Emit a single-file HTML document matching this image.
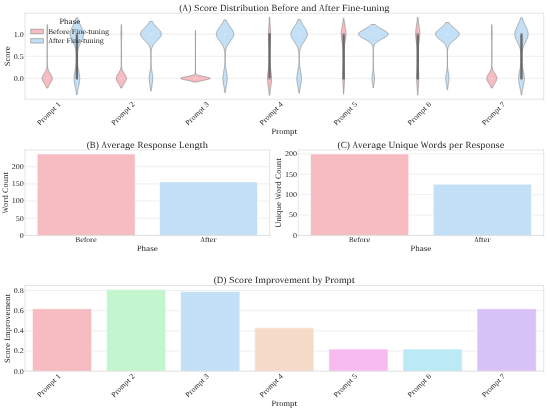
<!DOCTYPE html>
<html><head><meta charset="utf-8"><title>Fine-tuning Score Analysis</title>
<style>
html,body{margin:0;padding:0;background:#fff;width:550px;height:410px;overflow:hidden;font-family:"Liberation Serif",serif;}
svg{display:block;}
.wrap{will-change:transform;width:550px;height:410px;}
</style></head><body><div class="wrap">
<svg width="550" height="410" viewBox="0 0 955.358694 712.176481" version="1.1">
<defs>
<style type="text/css">*{stroke-linejoin: round; stroke-linecap: butt}</style>
</defs>
<g id="figure_1">
<g id="patch_1">
<path d="M 0 712.176481
L 955.358694 712.176481
L 955.358694 0
L 0 0
z
" style="fill: #ffffff"/>
</g>
<g id="axes_1">
<g id="patch_2">
<path d="M 43.425395 172.311968
L 944.415494 172.311968
L 944.415494 23.10231
L 43.425395 23.10231
z
" style="fill: #ffffff"/>
</g>
<g id="matplotlib.axis_1">
<g id="xtick_1">
<g id="text_1">
<text y="0.00" transform="translate(69.628669 218.25771) rotate(-45)" style="font-size:12.870px;font-family:'Liberation Serif',serif;fill:#262626;text-rendering:geometricPrecision"><tspan x="0.00" textLength="7.40" lengthAdjust="spacingAndGlyphs">P</tspan><tspan x="7.40" textLength="5.26" lengthAdjust="spacingAndGlyphs">r</tspan><tspan x="12.66" textLength="6.62" lengthAdjust="spacingAndGlyphs">o</tspan><tspan x="19.28" textLength="10.43" lengthAdjust="spacingAndGlyphs">m</tspan><tspan x="29.71" textLength="7.04" lengthAdjust="spacingAndGlyphs">p</tspan><tspan x="36.75" textLength="4.42" lengthAdjust="spacingAndGlyphs">t</tspan> <tspan x="44.67" textLength="7.00" lengthAdjust="spacingAndGlyphs">1</tspan></text>
</g>
</g>
<g id="xtick_2">
<g id="text_2">
<text y="0.00" transform="translate(198.34154 218.25771) rotate(-45)" style="font-size:12.870px;font-family:'Liberation Serif',serif;fill:#262626;text-rendering:geometricPrecision"><tspan x="0.00" textLength="7.40" lengthAdjust="spacingAndGlyphs">P</tspan><tspan x="7.40" textLength="5.26" lengthAdjust="spacingAndGlyphs">r</tspan><tspan x="12.66" textLength="6.62" lengthAdjust="spacingAndGlyphs">o</tspan><tspan x="19.28" textLength="10.43" lengthAdjust="spacingAndGlyphs">m</tspan><tspan x="29.71" textLength="7.04" lengthAdjust="spacingAndGlyphs">p</tspan><tspan x="36.75" textLength="4.42" lengthAdjust="spacingAndGlyphs">t</tspan> <tspan x="44.67" textLength="7.00" lengthAdjust="spacingAndGlyphs">2</tspan></text>
</g>
</g>
<g id="xtick_3">
<g id="text_3">
<text y="0.00" transform="translate(327.054412 218.25771) rotate(-45)" style="font-size:12.870px;font-family:'Liberation Serif',serif;fill:#262626;text-rendering:geometricPrecision"><tspan x="0.00" textLength="7.40" lengthAdjust="spacingAndGlyphs">P</tspan><tspan x="7.40" textLength="5.26" lengthAdjust="spacingAndGlyphs">r</tspan><tspan x="12.66" textLength="6.62" lengthAdjust="spacingAndGlyphs">o</tspan><tspan x="19.28" textLength="10.43" lengthAdjust="spacingAndGlyphs">m</tspan><tspan x="29.71" textLength="7.04" lengthAdjust="spacingAndGlyphs">p</tspan><tspan x="36.75" textLength="4.42" lengthAdjust="spacingAndGlyphs">t</tspan> <tspan x="44.67" textLength="7.00" lengthAdjust="spacingAndGlyphs">3</tspan></text>
</g>
</g>
<g id="xtick_4">
<g id="text_4">
<text y="0.00" transform="translate(455.767283 218.25771) rotate(-45)" style="font-size:12.870px;font-family:'Liberation Serif',serif;fill:#262626;text-rendering:geometricPrecision"><tspan x="0.00" textLength="7.40" lengthAdjust="spacingAndGlyphs">P</tspan><tspan x="7.40" textLength="5.26" lengthAdjust="spacingAndGlyphs">r</tspan><tspan x="12.66" textLength="6.62" lengthAdjust="spacingAndGlyphs">o</tspan><tspan x="19.28" textLength="10.43" lengthAdjust="spacingAndGlyphs">m</tspan><tspan x="29.71" textLength="7.04" lengthAdjust="spacingAndGlyphs">p</tspan><tspan x="36.75" textLength="4.42" lengthAdjust="spacingAndGlyphs">t</tspan> <tspan x="44.67" textLength="7.00" lengthAdjust="spacingAndGlyphs">4</tspan></text>
</g>
</g>
<g id="xtick_5">
<g id="text_5">
<text y="0.00" transform="translate(584.480154 218.25771) rotate(-45)" style="font-size:12.870px;font-family:'Liberation Serif',serif;fill:#262626;text-rendering:geometricPrecision"><tspan x="0.00" textLength="7.40" lengthAdjust="spacingAndGlyphs">P</tspan><tspan x="7.40" textLength="5.26" lengthAdjust="spacingAndGlyphs">r</tspan><tspan x="12.66" textLength="6.62" lengthAdjust="spacingAndGlyphs">o</tspan><tspan x="19.28" textLength="10.43" lengthAdjust="spacingAndGlyphs">m</tspan><tspan x="29.71" textLength="7.04" lengthAdjust="spacingAndGlyphs">p</tspan><tspan x="36.75" textLength="4.42" lengthAdjust="spacingAndGlyphs">t</tspan> <tspan x="44.67" textLength="7.00" lengthAdjust="spacingAndGlyphs">5</tspan></text>
</g>
</g>
<g id="xtick_6">
<g id="text_6">
<text y="0.00" transform="translate(713.193026 218.25771) rotate(-45)" style="font-size:12.870px;font-family:'Liberation Serif',serif;fill:#262626;text-rendering:geometricPrecision"><tspan x="0.00" textLength="7.40" lengthAdjust="spacingAndGlyphs">P</tspan><tspan x="7.40" textLength="5.26" lengthAdjust="spacingAndGlyphs">r</tspan><tspan x="12.66" textLength="6.62" lengthAdjust="spacingAndGlyphs">o</tspan><tspan x="19.28" textLength="10.43" lengthAdjust="spacingAndGlyphs">m</tspan><tspan x="29.71" textLength="7.04" lengthAdjust="spacingAndGlyphs">p</tspan><tspan x="36.75" textLength="4.42" lengthAdjust="spacingAndGlyphs">t</tspan> <tspan x="44.67" textLength="7.00" lengthAdjust="spacingAndGlyphs">6</tspan></text>
</g>
</g>
<g id="xtick_7">
<g id="text_7">
<text y="0.00" transform="translate(841.905897 218.25771) rotate(-45)" style="font-size:12.870px;font-family:'Liberation Serif',serif;fill:#262626;text-rendering:geometricPrecision"><tspan x="0.00" textLength="7.40" lengthAdjust="spacingAndGlyphs">P</tspan><tspan x="7.40" textLength="5.26" lengthAdjust="spacingAndGlyphs">r</tspan><tspan x="12.66" textLength="6.62" lengthAdjust="spacingAndGlyphs">o</tspan><tspan x="19.28" textLength="10.43" lengthAdjust="spacingAndGlyphs">m</tspan><tspan x="29.71" textLength="7.04" lengthAdjust="spacingAndGlyphs">p</tspan><tspan x="36.75" textLength="4.42" lengthAdjust="spacingAndGlyphs">t</tspan> <tspan x="44.67" textLength="7.00" lengthAdjust="spacingAndGlyphs">7</tspan></text>
</g>
</g>
<g id="text_8">
<text y="232.99" style="font-size:14.040px;font-family:'Liberation Serif',serif;fill:#262626;text-rendering:geometricPrecision"><tspan x="471.46" textLength="8.07" lengthAdjust="spacingAndGlyphs">P</tspan><tspan x="479.54" textLength="5.74" lengthAdjust="spacingAndGlyphs">r</tspan><tspan x="485.27" textLength="7.22" lengthAdjust="spacingAndGlyphs">o</tspan><tspan x="492.50" textLength="11.38" lengthAdjust="spacingAndGlyphs">m</tspan><tspan x="503.88" textLength="7.68" lengthAdjust="spacingAndGlyphs">p</tspan><tspan x="511.56" textLength="4.82" lengthAdjust="spacingAndGlyphs">t</tspan></text>
</g>
</g>
<g id="matplotlib.axis_2">
<g id="ytick_1">
<g id="line2d_1">
<path d="M 43.425395 136.169122
L 944.415494 136.169122
" clip-path="url(#p2579b89960)" style="fill: none; stroke: #cccccc; stroke-width: 0.6; stroke-linecap: round"/>
</g>
<g id="text_9">
<text y="140.35" style="font-size:12.870px;font-family:'Liberation Serif',serif;fill:#262626;text-rendering:geometricPrecision"><tspan x="23.93" textLength="7.00" lengthAdjust="spacingAndGlyphs">0</tspan><tspan x="30.93" textLength="3.50" lengthAdjust="spacingAndGlyphs">.</tspan><tspan x="34.43" textLength="7.00" lengthAdjust="spacingAndGlyphs">0</tspan></text>
</g>
</g>
<g id="ytick_2">
<g id="line2d_2">
<path d="M 43.425395 97.707139
L 944.415494 97.707139
" clip-path="url(#p2579b89960)" style="fill: none; stroke: #cccccc; stroke-width: 0.6; stroke-linecap: round"/>
</g>
<g id="text_10">
<text y="101.89" style="font-size:12.870px;font-family:'Liberation Serif',serif;fill:#262626;text-rendering:geometricPrecision"><tspan x="23.93" textLength="7.00" lengthAdjust="spacingAndGlyphs">0</tspan><tspan x="30.93" textLength="3.50" lengthAdjust="spacingAndGlyphs">.</tspan><tspan x="34.43" textLength="7.00" lengthAdjust="spacingAndGlyphs">5</tspan></text>
</g>
</g>
<g id="ytick_3">
<g id="line2d_3">
<path d="M 43.425395 59.245156
L 944.415494 59.245156
" clip-path="url(#p2579b89960)" style="fill: none; stroke: #cccccc; stroke-width: 0.6; stroke-linecap: round"/>
</g>
<g id="text_11">
<text y="63.42" style="font-size:12.870px;font-family:'Liberation Serif',serif;fill:#262626;text-rendering:geometricPrecision"><tspan x="23.93" textLength="7.00" lengthAdjust="spacingAndGlyphs">1</tspan><tspan x="30.93" textLength="3.50" lengthAdjust="spacingAndGlyphs">.</tspan><tspan x="34.43" textLength="7.00" lengthAdjust="spacingAndGlyphs">0</tspan></text>
</g>
</g>
<g id="text_12">
<text y="97.71" transform="rotate(-90 17.436333 97.707139)" style="font-size:14.040px;font-family:'Liberation Serif',serif;fill:#262626;text-rendering:geometricPrecision"><tspan x="-0.07" textLength="8.22" lengthAdjust="spacingAndGlyphs">S</tspan><tspan x="8.16" textLength="6.72" lengthAdjust="spacingAndGlyphs">c</tspan><tspan x="14.88" textLength="7.22" lengthAdjust="spacingAndGlyphs">o</tspan><tspan x="22.10" textLength="5.74" lengthAdjust="spacingAndGlyphs">r</tspan><tspan x="27.84" textLength="7.10" lengthAdjust="spacingAndGlyphs">e</tspan></text>
</g>
</g>
<g id="FillBetweenPolyCollection_1">
<defs>
<path id="m5cc52a98eb" d="M 83.228711 -559.307494
L 80.849802 -559.307494
L 80.499678 -560.421874
L 80.081672 -561.536255
L 79.594117 -562.650636
L 79.039049 -563.765017
L 78.422964 -564.879397
L 77.757319 -565.993778
L 77.058657 -567.108159
L 76.34827 -568.22254
L 75.651359 -569.33692
L 74.995685 -570.451301
L 74.40982 -571.565682
L 73.921116 -572.680063
L 73.553605 -573.794444
L 73.326043 -574.908824
L 73.250325 -576.023205
L 73.330456 -577.137586
L 73.562198 -578.251967
L 73.933444 -579.366347
L 74.425263 -580.480728
L 75.013502 -581.595109
L 75.670744 -582.70949
L 76.368414 -583.82387
L 77.078799 -584.938251
L 77.776796 -586.052632
L 78.441236 -587.167013
L 79.05572 -588.281394
L 79.608935 -589.395774
L 80.094521 -590.510155
L 80.510557 -591.624536
L 80.858805 -592.738917
L 81.143812 -593.853297
L 81.371999 -594.967678
L 81.550814 -596.082059
L 81.688022 -597.19644
L 81.791145 -598.310821
L 81.867086 -599.425201
L 81.921892 -600.539582
L 81.960664 -601.653963
L 81.987557 -602.768344
L 82.005848 -603.882724
L 82.018049 -604.997105
L 82.026031 -606.111486
L 82.031155 -607.225867
L 82.034381 -608.340247
L 82.036374 -609.454628
L 82.037581 -610.569009
L 82.038298 -611.68339
L 82.038714 -612.797771
L 82.038948 -613.912151
L 82.039072 -615.026532
L 82.039125 -616.140913
L 82.039129 -617.255294
L 82.039088 -618.369674
L 82.038995 -619.484055
L 82.038827 -620.598436
L 82.038549 -621.712817
L 82.038105 -622.827197
L 82.037412 -623.941578
L 82.036351 -625.055959
L 82.034761 -626.17034
L 82.032422 -627.284721
L 82.029051 -628.399101
L 82.024285 -629.513482
L 82.017682 -630.627863
L 82.008714 -631.742244
L 81.996783 -632.856624
L 81.981234 -633.971005
L 81.961392 -635.085386
L 81.936609 -636.199767
L 81.906326 -637.314147
L 81.870149 -638.428528
L 81.827924 -639.542909
L 81.779819 -640.65729
L 81.726385 -641.771671
L 81.668608 -642.886051
L 81.607912 -644.000432
L 81.54614 -645.114813
L 81.485473 -646.229194
L 81.428321 -647.343574
L 81.37717 -648.457955
L 81.334403 -649.572336
L 81.302121 -650.686717
L 81.28197 -651.801097
L 81.275002 -652.915478
L 81.281586 -654.029859
L 81.301374 -655.14424
L 81.333331 -656.258621
L 81.375827 -657.373001
L 81.426772 -658.487382
L 81.483787 -659.601763
L 81.544388 -660.716144
L 81.606161 -661.830524
L 81.666914 -662.944905
L 81.724796 -664.059286
L 81.778369 -665.173667
L 81.826636 -666.288047
L 81.869032 -667.402428
L 81.90538 -668.516809
L 81.935826 -669.63119
L 82.142687 -669.63119
L 82.142687 -669.63119
L 82.173133 -668.516809
L 82.209481 -667.402428
L 82.251877 -666.288047
L 82.300144 -665.173667
L 82.353717 -664.059286
L 82.411599 -662.944905
L 82.472352 -661.830524
L 82.534125 -660.716144
L 82.594726 -659.601763
L 82.651741 -658.487382
L 82.702686 -657.373001
L 82.745182 -656.258621
L 82.777139 -655.14424
L 82.796927 -654.029859
L 82.803511 -652.915478
L 82.796544 -651.801097
L 82.776392 -650.686717
L 82.74411 -649.572336
L 82.701343 -648.457955
L 82.650192 -647.343574
L 82.59304 -646.229194
L 82.532373 -645.114813
L 82.470601 -644.000432
L 82.409905 -642.886051
L 82.352128 -641.771671
L 82.298695 -640.65729
L 82.250589 -639.542909
L 82.208364 -638.428528
L 82.172187 -637.314147
L 82.141904 -636.199767
L 82.117121 -635.085386
L 82.097279 -633.971005
L 82.08173 -632.856624
L 82.069799 -631.742244
L 82.060831 -630.627863
L 82.054228 -629.513482
L 82.049462 -628.399101
L 82.046091 -627.284721
L 82.043752 -626.17034
L 82.042162 -625.055959
L 82.041101 -623.941578
L 82.040408 -622.827197
L 82.039964 -621.712817
L 82.039686 -620.598436
L 82.039519 -619.484055
L 82.039425 -618.369674
L 82.039384 -617.255294
L 82.039388 -616.140913
L 82.039441 -615.026532
L 82.039565 -613.912151
L 82.039799 -612.797771
L 82.040215 -611.68339
L 82.040932 -610.569009
L 82.042139 -609.454628
L 82.044132 -608.340247
L 82.047358 -607.225867
L 82.052482 -606.111486
L 82.060464 -604.997105
L 82.072665 -603.882724
L 82.090956 -602.768344
L 82.117849 -601.653963
L 82.156621 -600.539582
L 82.211427 -599.425201
L 82.287368 -598.310821
L 82.390491 -597.19644
L 82.527699 -596.082059
L 82.706514 -594.967678
L 82.934701 -593.853297
L 83.219708 -592.738917
L 83.567956 -591.624536
L 83.983992 -590.510155
L 84.469578 -589.395774
L 85.022793 -588.281394
L 85.637277 -587.167013
L 86.301717 -586.052632
L 86.999714 -584.938251
L 87.710099 -583.82387
L 88.407769 -582.70949
L 89.065011 -581.595109
L 89.65325 -580.480728
L 90.145069 -579.366347
L 90.516315 -578.251967
L 90.748058 -577.137586
L 90.828188 -576.023205
L 90.75247 -574.908824
L 90.524908 -573.794444
L 90.157397 -572.680063
L 89.668693 -571.565682
L 89.082828 -570.451301
L 88.427154 -569.33692
L 87.730243 -568.22254
L 87.019856 -567.108159
L 86.321194 -565.993778
L 85.655549 -564.879397
L 85.039464 -563.765017
L 84.484396 -562.650636
L 83.996841 -561.536255
L 83.578835 -560.421874
L 83.228711 -559.307494
z
" style="stroke: #828282"/>
</defs>
<g clip-path="url(#p2579b89960)">
<use href="#m5cc52a98eb" x="0" y="712.176481" style="fill: #f6bcc2; stroke: #828282"/>
</g>
</g>
<g id="FillBetweenPolyCollection_2">
<defs>
<path id="m6c2104e255" d="M 134.196958 -547.798617
L 132.851852 -547.798617
L 132.71402 -549.145501
L 132.556805 -550.492384
L 132.379578 -551.839267
L 132.182185 -553.186151
L 131.965043 -554.533034
L 131.729217 -555.879917
L 131.476487 -557.226801
L 131.209384 -558.573684
L 130.931201 -559.920567
L 130.645959 -561.267451
L 130.358344 -562.614334
L 130.073604 -563.961217
L 129.797397 -565.308101
L 129.535624 -566.654984
L 129.294216 -568.001867
L 129.078922 -569.348751
L 128.895079 -570.695634
L 128.747394 -572.042517
L 128.639745 -573.3894
L 128.57501 -574.736284
L 128.554941 -576.083167
L 128.580084 -577.43005
L 128.649753 -578.776934
L 128.762064 -580.123817
L 128.914018 -581.4707
L 129.101631 -582.817584
L 129.32011 -584.164467
L 129.564057 -585.51135
L 129.82768 -586.858234
L 130.105028 -588.205117
L 130.3902 -589.552
L 130.677547 -590.898884
L 130.961841 -592.245767
L 131.23841 -593.59265
L 131.503234 -594.939534
L 131.753 -596.286417
L 131.985118 -597.6333
L 132.197695 -598.980184
L 132.389478 -600.327067
L 132.559775 -601.67395
L 132.708349 -603.020833
L 132.835297 -604.367717
L 132.940927 -605.7146
L 133.025632 -607.061483
L 133.089764 -608.408367
L 133.133523 -609.75525
L 133.156852 -611.102133
L 133.15936 -612.449017
L 133.14025 -613.7959
L 133.098286 -615.142783
L 133.031776 -616.489667
L 132.938584 -617.83655
L 132.816181 -619.183433
L 132.661719 -620.530317
L 132.472146 -621.8772
L 132.244351 -623.224083
L 131.97534 -624.570967
L 131.662444 -625.91785
L 131.303543 -627.264733
L 130.897307 -628.611617
L 130.443433 -629.9585
L 129.942882 -631.305383
L 129.398073 -632.652266
L 128.813051 -633.99915
L 128.193584 -635.346033
L 127.547199 -636.692916
L 126.88313 -638.0398
L 126.212171 -639.386683
L 125.546449 -640.733566
L 124.899092 -642.08045
L 124.283833 -643.427333
L 123.714536 -644.774216
L 123.204693 -646.1211
L 122.766893 -647.467983
L 122.412313 -648.814866
L 122.150239 -650.16175
L 121.987669 -651.508633
L 121.928997 -652.855516
L 121.975822 -654.2024
L 122.126867 -655.549283
L 122.378047 -656.896166
L 122.722644 -658.243049
L 123.151611 -659.589933
L 123.653964 -660.936816
L 124.217249 -662.283699
L 124.828054 -663.630583
L 125.472535 -664.977466
L 126.13693 -666.324349
L 126.80803 -667.671233
L 127.473595 -669.018116
L 128.12269 -670.364999
L 128.745929 -671.711883
L 129.335632 -673.058766
L 129.885893 -674.405649
L 130.392558 -675.752533
L 130.853141 -677.099416
L 131.266672 -678.446299
L 131.633507 -679.793183
L 131.955115 -681.140066
L 135.093695 -681.140066
L 135.093695 -681.140066
L 135.415303 -679.793183
L 135.782138 -678.446299
L 136.195669 -677.099416
L 136.656252 -675.752533
L 137.162917 -674.405649
L 137.713178 -673.058766
L 138.302881 -671.711883
L 138.92612 -670.364999
L 139.575215 -669.018116
L 140.24078 -667.671233
L 140.91188 -666.324349
L 141.576275 -664.977466
L 142.220756 -663.630583
L 142.831561 -662.283699
L 143.394846 -660.936816
L 143.897199 -659.589933
L 144.326166 -658.243049
L 144.670763 -656.896166
L 144.921943 -655.549283
L 145.072988 -654.2024
L 145.119813 -652.855516
L 145.061142 -651.508633
L 144.898571 -650.16175
L 144.636497 -648.814866
L 144.281917 -647.467983
L 143.844117 -646.1211
L 143.334274 -644.774216
L 142.764977 -643.427333
L 142.149718 -642.08045
L 141.502361 -640.733566
L 140.836639 -639.386683
L 140.165681 -638.0398
L 139.501611 -636.692916
L 138.855227 -635.346033
L 138.23576 -633.99915
L 137.650737 -632.652266
L 137.105928 -631.305383
L 136.605377 -629.9585
L 136.151504 -628.611617
L 135.745267 -627.264733
L 135.386366 -625.91785
L 135.07347 -624.570967
L 134.804459 -623.224083
L 134.576664 -621.8772
L 134.387091 -620.530317
L 134.232629 -619.183433
L 134.110226 -617.83655
L 134.017034 -616.489667
L 133.950524 -615.142783
L 133.90856 -613.7959
L 133.889451 -612.449017
L 133.891958 -611.102133
L 133.915287 -609.75525
L 133.959046 -608.408367
L 134.023178 -607.061483
L 134.107883 -605.7146
L 134.213513 -604.367717
L 134.340461 -603.020833
L 134.489035 -601.67395
L 134.659332 -600.327067
L 134.851116 -598.980184
L 135.063692 -597.6333
L 135.29581 -596.286417
L 135.545576 -594.939534
L 135.8104 -593.59265
L 136.086969 -592.245767
L 136.371263 -590.898884
L 136.65861 -589.552
L 136.943782 -588.205117
L 137.22113 -586.858234
L 137.484754 -585.51135
L 137.7287 -584.164467
L 137.94718 -582.817584
L 138.134792 -581.4707
L 138.286746 -580.123817
L 138.399057 -578.776934
L 138.468726 -577.43005
L 138.493869 -576.083167
L 138.4738 -574.736284
L 138.409065 -573.3894
L 138.301416 -572.042517
L 138.153731 -570.695634
L 137.969888 -569.348751
L 137.754594 -568.001867
L 137.513186 -566.654984
L 137.251413 -565.308101
L 136.975206 -563.961217
L 136.690466 -562.614334
L 136.402852 -561.267451
L 136.117609 -559.920567
L 135.839426 -558.573684
L 135.572323 -557.226801
L 135.319594 -555.879917
L 135.083768 -554.533034
L 134.866625 -553.186151
L 134.669232 -551.839267
L 134.492005 -550.492384
L 134.33479 -549.145501
L 134.196958 -547.798617
z
" style="stroke: #828282"/>
</defs>
<g clip-path="url(#p2579b89960)">
<use href="#m6c2104e255" x="0" y="712.176481" style="fill: #c3e0f6; stroke: #828282"/>
</g>
</g>
<g id="FillBetweenPolyCollection_3">
<defs>
<path id="m27f3d8ba1a" d="M 211.941583 -559.307494
L 209.562673 -559.307494
L 209.212549 -560.421874
L 208.794543 -561.536255
L 208.306988 -562.650636
L 207.75192 -563.765017
L 207.135835 -564.879397
L 206.47019 -565.993778
L 205.771528 -567.108159
L 205.061142 -568.22254
L 204.36423 -569.33692
L 203.708556 -570.451301
L 203.122691 -571.565682
L 202.633988 -572.680063
L 202.266477 -573.794444
L 202.038914 -574.908824
L 201.963196 -576.023205
L 202.043327 -577.137586
L 202.275069 -578.251967
L 202.646315 -579.366347
L 203.138134 -580.480728
L 203.726373 -581.595109
L 204.383615 -582.70949
L 205.081285 -583.82387
L 205.79167 -584.938251
L 206.489667 -586.052632
L 207.154107 -587.167013
L 207.768591 -588.281394
L 208.321806 -589.395774
L 208.807392 -590.510155
L 209.223429 -591.624536
L 209.571677 -592.738917
L 209.856684 -593.853297
L 210.08487 -594.967678
L 210.263686 -596.082059
L 210.400893 -597.19644
L 210.504017 -598.310821
L 210.579957 -599.425201
L 210.634763 -600.539582
L 210.673536 -601.653963
L 210.700428 -602.768344
L 210.718719 -603.882724
L 210.73092 -604.997105
L 210.738903 -606.111486
L 210.744026 -607.225867
L 210.747252 -608.340247
L 210.749245 -609.454628
L 210.750452 -610.569009
L 210.751169 -611.68339
L 210.751585 -612.797771
L 210.751819 -613.912151
L 210.751943 -615.026532
L 210.751997 -616.140913
L 210.752001 -617.255294
L 210.75196 -618.369674
L 210.751866 -619.484055
L 210.751698 -620.598436
L 210.751421 -621.712817
L 210.750977 -622.827197
L 210.750283 -623.941578
L 210.749222 -625.055959
L 210.747632 -626.17034
L 210.745294 -627.284721
L 210.741922 -628.399101
L 210.737156 -629.513482
L 210.730553 -630.627863
L 210.721586 -631.742244
L 210.709655 -632.856624
L 210.694105 -633.971005
L 210.674263 -635.085386
L 210.64948 -636.199767
L 210.619197 -637.314147
L 210.58302 -638.428528
L 210.540796 -639.542909
L 210.49269 -640.65729
L 210.439256 -641.771671
L 210.381479 -642.886051
L 210.320784 -644.000432
L 210.259011 -645.114813
L 210.198344 -646.229194
L 210.141193 -647.343574
L 210.090041 -648.457955
L 210.047275 -649.572336
L 210.014992 -650.686717
L 209.994841 -651.801097
L 209.987873 -652.915478
L 209.994457 -654.029859
L 210.014245 -655.14424
L 210.046203 -656.258621
L 210.088699 -657.373001
L 210.139643 -658.487382
L 210.196658 -659.601763
L 210.257259 -660.716144
L 210.319032 -661.830524
L 210.379785 -662.944905
L 210.437668 -664.059286
L 210.49124 -665.173667
L 210.539507 -666.288047
L 210.581903 -667.402428
L 210.618251 -668.516809
L 210.648697 -669.63119
L 210.855559 -669.63119
L 210.855559 -669.63119
L 210.886004 -668.516809
L 210.922353 -667.402428
L 210.964749 -666.288047
L 211.013015 -665.173667
L 211.066588 -664.059286
L 211.12447 -662.944905
L 211.185223 -661.830524
L 211.246996 -660.716144
L 211.307597 -659.601763
L 211.364612 -658.487382
L 211.415557 -657.373001
L 211.458053 -656.258621
L 211.490011 -655.14424
L 211.509799 -654.029859
L 211.516383 -652.915478
L 211.509415 -651.801097
L 211.489263 -650.686717
L 211.456981 -649.572336
L 211.414214 -648.457955
L 211.363063 -647.343574
L 211.305912 -646.229194
L 211.245245 -645.114813
L 211.183472 -644.000432
L 211.122777 -642.886051
L 211.064999 -641.771671
L 211.011566 -640.65729
L 210.96346 -639.542909
L 210.921235 -638.428528
L 210.885058 -637.314147
L 210.854776 -636.199767
L 210.829993 -635.085386
L 210.81015 -633.971005
L 210.794601 -632.856624
L 210.78267 -631.742244
L 210.773703 -630.627863
L 210.767099 -629.513482
L 210.762333 -628.399101
L 210.758962 -627.284721
L 210.756624 -626.17034
L 210.755033 -625.055959
L 210.753973 -623.941578
L 210.753279 -622.827197
L 210.752835 -621.712817
L 210.752557 -620.598436
L 210.75239 -619.484055
L 210.752296 -618.369674
L 210.752255 -617.255294
L 210.752259 -616.140913
L 210.752313 -615.026532
L 210.752436 -613.912151
L 210.75267 -612.797771
L 210.753086 -611.68339
L 210.753803 -610.569009
L 210.755011 -609.454628
L 210.757004 -608.340247
L 210.760229 -607.225867
L 210.765353 -606.111486
L 210.773336 -604.997105
L 210.785536 -603.882724
L 210.803827 -602.768344
L 210.83072 -601.653963
L 210.869492 -600.539582
L 210.924299 -599.425201
L 211.000239 -598.310821
L 211.103363 -597.19644
L 211.24057 -596.082059
L 211.419386 -594.967678
L 211.647572 -593.853297
L 211.932579 -592.738917
L 212.280827 -591.624536
L 212.696864 -590.510155
L 213.182449 -589.395774
L 213.735665 -588.281394
L 214.350148 -587.167013
L 215.014589 -586.052632
L 215.712585 -584.938251
L 216.42297 -583.82387
L 217.12064 -582.70949
L 217.777883 -581.595109
L 218.366121 -580.480728
L 218.857941 -579.366347
L 219.229187 -578.251967
L 219.460929 -577.137586
L 219.54106 -576.023205
L 219.465341 -574.908824
L 219.237779 -573.794444
L 218.870268 -572.680063
L 218.381565 -571.565682
L 217.7957 -570.451301
L 217.140026 -569.33692
L 216.443114 -568.22254
L 215.732728 -567.108159
L 215.034065 -565.993778
L 214.36842 -564.879397
L 213.752336 -563.765017
L 213.197267 -562.650636
L 212.709712 -561.536255
L 212.291707 -560.421874
L 211.941583 -559.307494
z
" style="stroke: #828282"/>
</defs>
<g clip-path="url(#p2579b89960)">
<use href="#m27f3d8ba1a" x="0" y="712.176481" style="fill: #f6bcc2; stroke: #828282"/>
</g>
</g>
<g id="FillBetweenPolyCollection_4">
<defs>
<path id="mf1601d289b" d="M 262.668846 -554.027285
L 261.805707 -554.027285
L 261.701633 -555.248336
L 261.580619 -556.469388
L 261.442142 -557.69044
L 261.286274 -558.911491
L 261.113806 -560.132543
L 260.926344 -561.353595
L 260.726368 -562.574646
L 260.517252 -563.795698
L 260.303215 -565.01675
L 260.089226 -566.237801
L 259.880829 -567.458853
L 259.683928 -568.679905
L 259.504519 -569.900956
L 259.348386 -571.122008
L 259.2208 -572.34306
L 259.126221 -573.564111
L 259.068041 -574.785163
L 259.048383 -576.006214
L 259.067968 -577.227266
L 259.126077 -578.448318
L 259.22059 -579.669369
L 259.348118 -580.890421
L 259.504203 -582.111473
L 259.683574 -583.332524
L 259.880447 -584.553576
L 260.088828 -585.774628
L 260.302812 -586.995679
L 260.516853 -588.216731
L 260.725983 -589.437783
L 260.925978 -590.658834
L 261.113465 -591.879886
L 261.285959 -593.100938
L 261.441854 -594.321989
L 261.580355 -595.543041
L 261.701384 -596.764093
L 261.805459 -597.985144
L 261.893557 -599.206196
L 261.966979 -600.427248
L 262.027227 -601.648299
L 262.075884 -602.869351
L 262.11452 -604.090403
L 262.144611 -605.311454
L 262.167479 -606.532506
L 262.184236 -607.753558
L 262.195754 -608.974609
L 262.202621 -610.195661
L 262.205114 -611.416713
L 262.203159 -612.637764
L 262.196281 -613.858816
L 262.18355 -615.079867
L 262.16351 -616.300919
L 262.134095 -617.521971
L 262.092544 -618.743022
L 262.035304 -619.964074
L 261.957952 -621.185126
L 261.855123 -622.406177
L 261.720485 -623.627229
L 261.546758 -624.848281
L 261.325814 -626.069332
L 261.048851 -627.290384
L 260.70669 -628.511436
L 260.290174 -629.732487
L 259.790683 -630.953539
L 259.200766 -632.174591
L 258.514838 -633.395642
L 257.729947 -634.616694
L 256.846515 -635.837746
L 255.869029 -637.058797
L 254.806595 -638.279849
L 253.673284 -639.500901
L 252.488215 -640.721952
L 251.275315 -641.943004
L 250.062735 -643.164056
L 248.881909 -644.385107
L 247.766295 -645.606159
L 246.749858 -646.827211
L 245.865381 -648.048262
L 245.142722 -649.269314
L 244.607146 -650.490366
L 244.277863 -651.711417
L 244.16688 -652.932469
L 244.278279 -654.153521
L 244.607962 -655.374572
L 245.143909 -656.595624
L 245.866897 -657.816675
L 246.75165 -659.037727
L 247.768304 -660.258779
L 248.884072 -661.47983
L 250.064989 -662.700882
L 251.277598 -663.921934
L 252.49047 -665.142985
L 253.675464 -666.364037
L 254.808658 -667.585089
L 255.870945 -668.80614
L 256.848262 -670.027192
L 257.731514 -671.248244
L 258.51622 -672.469295
L 259.201967 -673.690347
L 259.791714 -674.911399
L 264.682839 -674.911399
L 264.682839 -674.911399
L 265.272586 -673.690347
L 265.958332 -672.469295
L 266.743039 -671.248244
L 267.626291 -670.027192
L 268.603608 -668.80614
L 269.665894 -667.585089
L 270.799089 -666.364037
L 271.984082 -665.142985
L 273.196955 -663.921934
L 274.409564 -662.700882
L 275.590481 -661.47983
L 276.706249 -660.258779
L 277.722902 -659.037727
L 278.607656 -657.816675
L 279.330644 -656.595624
L 279.86659 -655.374572
L 280.196274 -654.153521
L 280.307672 -652.932469
L 280.196689 -651.711417
L 279.867406 -650.490366
L 279.331831 -649.269314
L 278.609171 -648.048262
L 277.724694 -646.827211
L 276.708258 -645.606159
L 275.592644 -644.385107
L 274.411818 -643.164056
L 273.199238 -641.943004
L 271.986338 -640.721952
L 270.801269 -639.500901
L 269.667958 -638.279849
L 268.605524 -637.058797
L 267.628038 -635.837746
L 266.744605 -634.616694
L 265.959714 -633.395642
L 265.273787 -632.174591
L 264.683869 -630.953539
L 264.184379 -629.732487
L 263.767863 -628.511436
L 263.425702 -627.290384
L 263.148739 -626.069332
L 262.927794 -624.848281
L 262.754068 -623.627229
L 262.61943 -622.406177
L 262.5166 -621.185126
L 262.439248 -619.964074
L 262.382009 -618.743022
L 262.340458 -617.521971
L 262.311043 -616.300919
L 262.291002 -615.079867
L 262.278271 -613.858816
L 262.271394 -612.637764
L 262.269438 -611.416713
L 262.271932 -610.195661
L 262.278799 -608.974609
L 262.290316 -607.753558
L 262.307074 -606.532506
L 262.329941 -605.311454
L 262.360033 -604.090403
L 262.398669 -602.869351
L 262.447326 -601.648299
L 262.507573 -600.427248
L 262.580996 -599.206196
L 262.669093 -597.985144
L 262.773168 -596.764093
L 262.894198 -595.543041
L 263.032699 -594.321989
L 263.188594 -593.100938
L 263.361088 -591.879886
L 263.548575 -590.658834
L 263.74857 -589.437783
L 263.9577 -588.216731
L 264.17174 -586.995679
L 264.385725 -585.774628
L 264.594106 -584.553576
L 264.790979 -583.332524
L 264.97035 -582.111473
L 265.126434 -580.890421
L 265.253962 -579.669369
L 265.348476 -578.448318
L 265.406585 -577.227266
L 265.42617 -576.006214
L 265.406511 -574.785163
L 265.348332 -573.564111
L 265.253753 -572.34306
L 265.126167 -571.122008
L 264.970034 -569.900956
L 264.790624 -568.679905
L 264.593724 -567.458853
L 264.385327 -566.237801
L 264.171337 -565.01675
L 263.957301 -563.795698
L 263.748184 -562.574646
L 263.548209 -561.353595
L 263.360747 -560.132543
L 263.188279 -558.911491
L 263.032411 -557.69044
L 262.893933 -556.469388
L 262.772919 -555.248336
L 262.668846 -554.027285
z
" style="stroke: #828282"/>
</defs>
<g clip-path="url(#p2579b89960)">
<use href="#mf1601d289b" x="0" y="712.176481" style="fill: #c3e0f6; stroke: #828282"/>
</g>
</g>
<g id="FillBetweenPolyCollection_5">
<defs>
<path id="m8c378d4bd3" d="M 342.954928 -569.882562
L 335.97507 -569.882562
L 333.446216 -570.783305
L 329.945176 -571.684048
L 325.655522 -572.584792
L 321.093114 -573.485535
L 317.048987 -574.386278
L 314.381328 -575.287021
L 313.722425 -576.187764
L 315.235692 -577.088507
L 318.549987 -577.98925
L 322.90717 -578.889993
L 327.442997 -579.790736
L 331.459685 -580.691479
L 334.576134 -581.592222
L 336.726795 -582.492965
L 338.05846 -583.393708
L 338.802377 -584.294451
L 339.178708 -585.195194
L 339.351556 -586.095937
L 339.423773 -586.99668
L 339.451259 -587.897423
L 339.460799 -588.798166
L 339.463822 -589.698909
L 339.464696 -590.599652
L 339.464928 -591.500395
L 339.464984 -592.401138
L 339.464996 -593.301881
L 339.464999 -594.202624
L 339.464999 -595.103367
L 339.464999 -596.00411
L 339.464999 -596.904853
L 339.464999 -597.805596
L 339.464999 -598.706339
L 339.464999 -599.607082
L 339.464999 -600.507825
L 339.464999 -601.408568
L 339.464999 -602.309311
L 339.464999 -603.210054
L 339.464999 -604.110797
L 339.464999 -605.01154
L 339.464999 -605.912283
L 339.464999 -606.813026
L 339.464999 -607.713769
L 339.464999 -608.614512
L 339.464999 -609.515255
L 339.464999 -610.415998
L 339.464999 -611.316741
L 339.464999 -612.217484
L 339.464999 -613.118227
L 339.464999 -614.01897
L 339.464999 -614.919713
L 339.464999 -615.820456
L 339.464999 -616.721199
L 339.464999 -617.621942
L 339.464999 -618.522685
L 339.464999 -619.423428
L 339.464999 -620.324171
L 339.464999 -621.224914
L 339.464999 -622.125657
L 339.464999 -623.0264
L 339.464999 -623.927143
L 339.464999 -624.827886
L 339.464999 -625.728629
L 339.464999 -626.629372
L 339.464999 -627.530115
L 339.464999 -628.430858
L 339.464999 -629.331601
L 339.464999 -630.232344
L 339.464999 -631.133087
L 339.464999 -632.03383
L 339.464999 -632.934573
L 339.464999 -633.835316
L 339.464999 -634.736059
L 339.464999 -635.636803
L 339.464999 -636.537546
L 339.464998 -637.438289
L 339.464996 -638.339032
L 339.464987 -639.239775
L 339.464957 -640.140518
L 339.46486 -641.041261
L 339.464583 -641.942004
L 339.463853 -642.842747
L 339.462107 -643.74349
L 339.458306 -644.644233
L 339.450792 -645.544976
L 339.437341 -646.445719
L 339.415617 -647.346462
L 339.384137 -648.247205
L 339.343565 -649.147948
L 339.297748 -650.048691
L 339.253736 -650.949434
L 339.220259 -651.850177
L 339.204973 -652.75092
L 339.211629 -653.651663
L 339.238575 -654.552406
L 339.279425 -655.453149
L 339.325509 -656.353892
L 339.368839 -657.254635
L 339.404203 -658.155378
L 339.429747 -659.056121
L 339.500251 -659.056121
L 339.500251 -659.056121
L 339.525795 -658.155378
L 339.561159 -657.254635
L 339.604489 -656.353892
L 339.650574 -655.453149
L 339.691423 -654.552406
L 339.71837 -653.651663
L 339.725025 -652.75092
L 339.70974 -651.850177
L 339.676262 -650.949434
L 339.63225 -650.048691
L 339.586434 -649.147948
L 339.545861 -648.247205
L 339.514382 -647.346462
L 339.492658 -646.445719
L 339.479207 -645.544976
L 339.471692 -644.644233
L 339.467891 -643.74349
L 339.466145 -642.842747
L 339.465416 -641.942004
L 339.465138 -641.041261
L 339.465042 -640.140518
L 339.465011 -639.239775
L 339.465002 -638.339032
L 339.465 -637.438289
L 339.464999 -636.537546
L 339.464999 -635.636803
L 339.464999 -634.736059
L 339.464999 -633.835316
L 339.464999 -632.934573
L 339.464999 -632.03383
L 339.464999 -631.133087
L 339.464999 -630.232344
L 339.464999 -629.331601
L 339.464999 -628.430858
L 339.464999 -627.530115
L 339.464999 -626.629372
L 339.464999 -625.728629
L 339.464999 -624.827886
L 339.464999 -623.927143
L 339.464999 -623.0264
L 339.464999 -622.125657
L 339.464999 -621.224914
L 339.464999 -620.324171
L 339.464999 -619.423428
L 339.464999 -618.522685
L 339.464999 -617.621942
L 339.464999 -616.721199
L 339.464999 -615.820456
L 339.464999 -614.919713
L 339.464999 -614.01897
L 339.464999 -613.118227
L 339.464999 -612.217484
L 339.464999 -611.316741
L 339.464999 -610.415998
L 339.464999 -609.515255
L 339.464999 -608.614512
L 339.464999 -607.713769
L 339.464999 -606.813026
L 339.464999 -605.912283
L 339.464999 -605.01154
L 339.464999 -604.110797
L 339.464999 -603.210054
L 339.464999 -602.309311
L 339.464999 -601.408568
L 339.464999 -600.507825
L 339.464999 -599.607082
L 339.464999 -598.706339
L 339.464999 -597.805596
L 339.464999 -596.904853
L 339.464999 -596.00411
L 339.464999 -595.103367
L 339.465 -594.202624
L 339.465002 -593.301881
L 339.465015 -592.401138
L 339.465071 -591.500395
L 339.465302 -590.599652
L 339.466177 -589.698909
L 339.469199 -588.798166
L 339.47874 -587.897423
L 339.506226 -586.99668
L 339.578442 -586.095937
L 339.75129 -585.195194
L 340.127621 -584.294451
L 340.871538 -583.393708
L 342.203203 -582.492965
L 344.353864 -581.592222
L 347.470313 -580.691479
L 351.487002 -579.790736
L 356.022829 -578.889993
L 360.380012 -577.98925
L 363.694306 -577.088507
L 365.207573 -576.187764
L 364.54867 -575.287021
L 361.881011 -574.386278
L 357.836885 -573.485535
L 353.274477 -572.584792
L 348.984823 -571.684048
L 345.483782 -570.783305
L 342.954928 -569.882562
z
" style="stroke: #828282"/>
</defs>
<g clip-path="url(#p2579b89960)">
<use href="#m8c378d4bd3" x="0" y="712.176481" style="fill: #f6bcc2; stroke: #828282"/>
</g>
</g>
<g id="FillBetweenPolyCollection_6">
<defs>
<path id="m1f8e4a2cf1" d="M 391.463818 -551.384751
L 390.436477 -551.384751
L 390.321696 -552.659187
L 390.189461 -553.933623
L 390.039217 -555.208059
L 389.870925 -556.482495
L 389.68517 -557.756932
L 389.483247 -559.031368
L 389.267222 -560.305804
L 389.039963 -561.58024
L 388.805125 -562.854676
L 388.56709 -564.129113
L 388.330859 -565.403549
L 388.101897 -566.677985
L 387.885932 -567.952421
L 387.688729 -569.226857
L 387.515834 -570.501293
L 387.37232 -571.77573
L 387.262536 -573.050166
L 387.189895 -574.324602
L 387.156692 -575.599038
L 387.163986 -576.873474
L 387.211544 -578.147911
L 387.297852 -579.422347
L 387.420198 -580.696783
L 387.57481 -581.971219
L 387.757049 -583.245655
L 387.961646 -584.520091
L 388.182944 -585.794528
L 388.415164 -587.068964
L 388.652644 -588.3434
L 388.890066 -589.617836
L 389.12263 -590.892272
L 389.346202 -592.166709
L 389.557399 -593.441145
L 389.753628 -594.715581
L 389.933089 -595.990017
L 390.094723 -597.264453
L 390.238139 -598.538889
L 390.363515 -599.813326
L 390.471481 -601.087762
L 390.562994 -602.362198
L 390.639217 -603.636634
L 390.701397 -604.91107
L 390.750756 -606.185506
L 390.788381 -607.459943
L 390.815137 -608.734379
L 390.831578 -610.008815
L 390.837871 -611.283251
L 390.833723 -612.557687
L 390.818318 -613.832124
L 390.79026 -615.10656
L 390.747516 -616.380996
L 390.687382 -617.655432
L 390.606457 -618.929868
L 390.500645 -620.204304
L 390.365185 -621.478741
L 390.194725 -622.753177
L 389.983442 -624.027613
L 389.725218 -625.302049
L 389.413882 -626.576485
L 389.04351 -627.850922
L 388.608783 -629.125358
L 388.105399 -630.399794
L 387.530517 -631.67423
L 386.883202 -632.948666
L 386.164865 -634.223102
L 385.379636 -635.497539
L 384.534659 -636.771975
L 383.640252 -638.046411
L 382.709922 -639.320847
L 381.760195 -640.595283
L 380.810247 -641.86972
L 379.881353 -643.144156
L 378.996152 -644.418592
L 378.177761 -645.693028
L 377.448799 -646.967464
L 376.830352 -648.2419
L 376.340968 -649.516337
L 375.995734 -650.790773
L 375.805502 -652.065209
L 375.776326 -653.339645
L 375.909138 -654.614081
L 376.199702 -655.888518
L 376.638835 -657.162954
L 377.212894 -658.43739
L 377.904473 -659.711826
L 378.693286 -660.986262
L 379.557145 -662.260698
L 380.472995 -663.535135
L 381.417918 -664.809571
L 382.370058 -666.084007
L 383.309409 -667.358443
L 384.218443 -668.632879
L 385.082543 -669.907316
L 385.890238 -671.181752
L 386.633258 -672.456188
L 387.306426 -673.730624
L 387.907402 -675.00506
L 388.436339 -676.279496
L 388.895464 -677.553933
L 393.004831 -677.553933
L 393.004831 -677.553933
L 393.463956 -676.279496
L 393.992893 -675.00506
L 394.593869 -673.730624
L 395.267037 -672.456188
L 396.010058 -671.181752
L 396.817752 -669.907316
L 397.681852 -668.632879
L 398.590887 -667.358443
L 399.530238 -666.084007
L 400.482377 -664.809571
L 401.4273 -663.535135
L 402.343151 -662.260698
L 403.20701 -660.986262
L 403.995822 -659.711826
L 404.687401 -658.43739
L 405.26146 -657.162954
L 405.700593 -655.888518
L 405.991157 -654.614081
L 406.123969 -653.339645
L 406.094793 -652.065209
L 405.904561 -650.790773
L 405.559327 -649.516337
L 405.069944 -648.2419
L 404.451497 -646.967464
L 403.722534 -645.693028
L 402.904144 -644.418592
L 402.018942 -643.144156
L 401.090048 -641.86972
L 400.1401 -640.595283
L 399.190373 -639.320847
L 398.260044 -638.046411
L 397.365637 -636.771975
L 396.520659 -635.497539
L 395.73543 -634.223102
L 395.017093 -632.948666
L 394.369778 -631.67423
L 393.794896 -630.399794
L 393.291513 -629.125358
L 392.856785 -627.850922
L 392.486413 -626.576485
L 392.175077 -625.302049
L 391.916853 -624.027613
L 391.70557 -622.753177
L 391.53511 -621.478741
L 391.39965 -620.204304
L 391.293838 -618.929868
L 391.212913 -617.655432
L 391.152779 -616.380996
L 391.110035 -615.10656
L 391.081977 -613.832124
L 391.066573 -612.557687
L 391.062425 -611.283251
L 391.068717 -610.008815
L 391.085158 -608.734379
L 391.111914 -607.459943
L 391.149539 -606.185506
L 391.198898 -604.91107
L 391.261079 -603.636634
L 391.337302 -602.362198
L 391.428814 -601.087762
L 391.53678 -599.813326
L 391.662156 -598.538889
L 391.805573 -597.264453
L 391.967206 -595.990017
L 392.146667 -594.715581
L 392.342897 -593.441145
L 392.554093 -592.166709
L 392.777665 -590.892272
L 393.01023 -589.617836
L 393.247651 -588.3434
L 393.485132 -587.068964
L 393.717351 -585.794528
L 393.938649 -584.520091
L 394.143246 -583.245655
L 394.325486 -581.971219
L 394.480097 -580.696783
L 394.602443 -579.422347
L 394.688751 -578.147911
L 394.736309 -576.873474
L 394.743603 -575.599038
L 394.7104 -574.324602
L 394.637759 -573.050166
L 394.527976 -571.77573
L 394.384461 -570.501293
L 394.211566 -569.226857
L 394.014363 -567.952421
L 393.798398 -566.677985
L 393.569436 -565.403549
L 393.333205 -564.129113
L 393.09517 -562.854676
L 392.860332 -561.58024
L 392.633074 -560.305804
L 392.417049 -559.031368
L 392.215125 -557.756932
L 392.02937 -556.482495
L 391.861078 -555.208059
L 391.710834 -553.933623
L 391.5786 -552.659187
L 391.463818 -551.384751
z
" style="stroke: #828282"/>
</defs>
<g clip-path="url(#p2579b89960)">
<use href="#m1f8e4a2cf1" x="0" y="712.176481" style="fill: #c3e0f6; stroke: #828282"/>
</g>
</g>
<g id="FillBetweenPolyCollection_7">
<defs>
<path id="ma4a609a125" d="M 468.655864 -546.64677
L 467.699877 -546.64677
L 467.604285 -548.016923
L 467.495546 -549.387076
L 467.373232 -550.757229
L 467.237221 -552.127382
L 467.087757 -553.497535
L 466.925502 -554.867688
L 466.751575 -556.237841
L 466.567582 -557.607994
L 466.375621 -558.978147
L 466.178272 -560.3483
L 465.978554 -561.718453
L 465.77987 -563.088606
L 465.585913 -564.458758
L 465.400567 -565.828911
L 465.227779 -567.199064
L 465.071419 -568.569217
L 464.935142 -569.93937
L 464.822245 -571.309523
L 464.735535 -572.679676
L 464.677212 -574.049829
L 464.648777 -575.419982
L 464.650967 -576.790135
L 464.683726 -578.160288
L 464.746203 -579.530441
L 464.836793 -580.900594
L 464.953202 -582.270747
L 465.092544 -583.6409
L 465.251462 -585.011053
L 465.426258 -586.381206
L 465.613039 -587.751359
L 465.807854 -589.121512
L 466.006832 -590.491665
L 466.206303 -591.861818
L 466.402904 -593.231971
L 466.593653 -594.602124
L 466.776013 -595.972277
L 466.947922 -597.34243
L 467.107799 -598.712583
L 467.254533 -600.082736
L 467.387449 -601.452889
L 467.506262 -602.823041
L 467.611022 -604.193194
L 467.702042 -605.563347
L 467.77984 -606.9335
L 467.845065 -608.303653
L 467.898442 -609.673806
L 467.94071 -611.043959
L 467.972579 -612.414112
L 467.994692 -613.784265
L 468.007592 -615.154418
L 468.011713 -616.524571
L 468.00737 -617.894724
L 467.994759 -619.264877
L 467.973976 -620.63503
L 467.945035 -622.005183
L 467.907898 -623.375336
L 467.862508 -624.745489
L 467.808832 -626.115642
L 467.746899 -627.485795
L 467.676841 -628.855948
L 467.598941 -630.226101
L 467.51366 -631.596254
L 467.421674 -632.966407
L 467.323894 -634.33656
L 467.221476 -635.706713
L 467.115819 -637.076866
L 467.008554 -638.447019
L 466.90151 -639.817172
L 466.796676 -641.187324
L 466.696147 -642.557477
L 466.602056 -643.92763
L 466.516504 -645.297783
L 466.441487 -646.667936
L 466.378814 -648.038089
L 466.33004 -649.408242
L 466.296402 -650.778395
L 466.278765 -652.148548
L 466.277587 -653.518701
L 466.292899 -654.888854
L 466.324305 -656.259007
L 466.370995 -657.62916
L 466.431785 -658.999313
L 466.505165 -660.369466
L 466.589359 -661.739619
L 466.6824 -663.109772
L 466.782201 -664.479925
L 466.886639 -665.850078
L 466.993623 -667.220231
L 467.101163 -668.590384
L 467.207429 -669.960537
L 467.310792 -671.33069
L 467.409865 -672.700843
L 467.503518 -674.070996
L 467.590886 -675.441149
L 467.671367 -676.811302
L 467.744603 -678.181455
L 467.810465 -679.551607
L 467.869017 -680.92176
L 467.92049 -682.291913
L 468.435251 -682.291913
L 468.435251 -682.291913
L 468.486724 -680.92176
L 468.545276 -679.551607
L 468.611138 -678.181455
L 468.684374 -676.811302
L 468.764854 -675.441149
L 468.852223 -674.070996
L 468.945876 -672.700843
L 469.044949 -671.33069
L 469.148312 -669.960537
L 469.254577 -668.590384
L 469.362118 -667.220231
L 469.469102 -665.850078
L 469.57354 -664.479925
L 469.673341 -663.109772
L 469.766381 -661.739619
L 469.850575 -660.369466
L 469.923955 -658.999313
L 469.984746 -657.62916
L 470.031436 -656.259007
L 470.062842 -654.888854
L 470.078154 -653.518701
L 470.076976 -652.148548
L 470.059339 -650.778395
L 470.025701 -649.408242
L 469.976927 -648.038089
L 469.914254 -646.667936
L 469.839237 -645.297783
L 469.753685 -643.92763
L 469.659594 -642.557477
L 469.559065 -641.187324
L 469.454231 -639.817172
L 469.347187 -638.447019
L 469.239921 -637.076866
L 469.134265 -635.706713
L 469.031846 -634.33656
L 468.934067 -632.966407
L 468.842081 -631.596254
L 468.7568 -630.226101
L 468.678899 -628.855948
L 468.608842 -627.485795
L 468.546908 -626.115642
L 468.493233 -624.745489
L 468.447843 -623.375336
L 468.410706 -622.005183
L 468.381765 -620.63503
L 468.360982 -619.264877
L 468.348371 -617.894724
L 468.344027 -616.524571
L 468.348149 -615.154418
L 468.361049 -613.784265
L 468.383161 -612.414112
L 468.415031 -611.043959
L 468.457299 -609.673806
L 468.510676 -608.303653
L 468.575901 -606.9335
L 468.653699 -605.563347
L 468.744719 -604.193194
L 468.849478 -602.823041
L 468.968292 -601.452889
L 469.101208 -600.082736
L 469.247942 -598.712583
L 469.407819 -597.34243
L 469.579727 -595.972277
L 469.762088 -594.602124
L 469.952837 -593.231971
L 470.149437 -591.861818
L 470.348909 -590.491665
L 470.547887 -589.121512
L 470.742702 -587.751359
L 470.929483 -586.381206
L 471.104279 -585.011053
L 471.263197 -583.6409
L 471.402539 -582.270747
L 471.518948 -580.900594
L 471.609538 -579.530441
L 471.672015 -578.160288
L 471.704774 -576.790135
L 471.706964 -575.419982
L 471.678529 -574.049829
L 471.620205 -572.679676
L 471.533496 -571.309523
L 471.420599 -569.93937
L 471.284322 -568.569217
L 471.127962 -567.199064
L 470.955173 -565.828911
L 470.769828 -564.458758
L 470.575871 -563.088606
L 470.377187 -561.718453
L 470.177469 -560.3483
L 469.98012 -558.978147
L 469.788159 -557.607994
L 469.604166 -556.237841
L 469.430239 -554.867688
L 469.267983 -553.497535
L 469.11852 -552.127382
L 468.982509 -550.757229
L 468.860195 -549.387076
L 468.751456 -548.016923
L 468.655864 -546.64677
z
" style="stroke: #828282"/>
</defs>
<g clip-path="url(#p2579b89960)">
<use href="#ma4a609a125" x="0" y="712.176481" style="fill: #f6bcc2; stroke: #828282"/>
</g>
</g>
<g id="FillBetweenPolyCollection_8">
<defs>
<path id="m55d46b4ace" d="M 520.208625 -550.507798
L 519.117413 -550.507798
L 518.99824 -551.79995
L 518.861313 -553.092103
L 518.706062 -554.384255
L 518.53242 -555.676407
L 518.340919 -556.96856
L 518.13278 -558.260712
L 517.909973 -559.552865
L 517.675246 -560.845017
L 517.432123 -562.137169
L 517.184848 -563.429322
L 516.938295 -564.721474
L 516.697826 -566.013627
L 516.469109 -567.305779
L 516.257905 -568.597931
L 516.069831 -569.890084
L 515.910115 -571.182236
L 515.783353 -572.474389
L 515.693294 -573.766541
L 515.642652 -575.058693
L 515.63297 -576.350846
L 515.664546 -577.642998
L 515.736413 -578.935151
L 515.846391 -580.227303
L 515.991198 -581.519455
L 516.166606 -582.811608
L 516.367656 -584.10376
L 516.58888 -585.395913
L 516.824554 -586.688065
L 517.068935 -587.980217
L 517.31649 -589.27237
L 517.562091 -590.564522
L 517.801177 -591.856675
L 518.029865 -593.148827
L 518.245022 -594.440979
L 518.444287 -595.733132
L 518.626054 -597.025284
L 518.789418 -598.317437
L 518.93409 -599.609589
L 519.060296 -600.901741
L 519.168658 -602.193894
L 519.260069 -603.486046
L 519.335569 -604.778199
L 519.396222 -606.070351
L 519.443003 -607.362503
L 519.47669 -608.654656
L 519.497766 -609.946808
L 519.506336 -611.238961
L 519.502044 -612.531113
L 519.48401 -613.823265
L 519.450775 -615.115418
L 519.40026 -616.40757
L 519.32974 -617.699723
L 519.23585 -618.991875
L 519.114607 -620.284027
L 518.961477 -621.57618
L 518.77148 -622.868332
L 518.539335 -624.160485
L 518.259669 -625.452637
L 517.927269 -626.744789
L 517.537381 -628.036942
L 517.08606 -629.329094
L 516.570541 -630.621247
L 515.989624 -631.913399
L 515.344049 -633.205551
L 514.636831 -634.497704
L 513.873531 -635.789856
L 513.062429 -637.082009
L 512.214572 -638.374161
L 511.343686 -639.666313
L 510.465919 -640.958466
L 509.599434 -642.250618
L 508.763837 -643.542771
L 507.979481 -644.834923
L 507.266659 -646.127075
L 506.64475 -647.419228
L 506.131344 -648.71138
L 505.741418 -650.003533
L 505.486616 -651.295685
L 505.374665 -652.587837
L 505.408991 -653.87999
L 505.588542 -655.172142
L 505.907841 -656.464295
L 506.357267 -657.756447
L 506.923533 -659.048599
L 507.590341 -660.340752
L 508.339155 -661.632904
L 509.150062 -662.925057
L 510.002634 -664.217209
L 510.876775 -665.509361
L 511.753478 -666.801514
L 512.615461 -668.093666
L 513.447674 -669.385819
L 514.237627 -670.677971
L 514.975574 -671.970123
L 515.654531 -673.262276
L 516.270172 -674.554428
L 516.820606 -675.846581
L 517.306074 -677.138733
L 517.728599 -678.430885
L 521.597439 -678.430885
L 521.597439 -678.430885
L 522.019964 -677.138733
L 522.505432 -675.846581
L 523.055866 -674.554428
L 523.671507 -673.262276
L 524.350464 -671.970123
L 525.088411 -670.677971
L 525.878364 -669.385819
L 526.710576 -668.093666
L 527.57256 -666.801514
L 528.449262 -665.509361
L 529.323404 -664.217209
L 530.175976 -662.925057
L 530.986883 -661.632904
L 531.735697 -660.340752
L 532.402505 -659.048599
L 532.968771 -657.756447
L 533.418197 -656.464295
L 533.737496 -655.172142
L 533.917047 -653.87999
L 533.951373 -652.587837
L 533.839422 -651.295685
L 533.58462 -650.003533
L 533.194694 -648.71138
L 532.681288 -647.419228
L 532.059379 -646.127075
L 531.346557 -644.834923
L 530.562201 -643.542771
L 529.726604 -642.250618
L 528.860119 -640.958466
L 527.982352 -639.666313
L 527.111466 -638.374161
L 526.263609 -637.082009
L 525.452506 -635.789856
L 524.689207 -634.497704
L 523.981989 -633.205551
L 523.336414 -631.913399
L 522.755497 -630.621247
L 522.239977 -629.329094
L 521.788657 -628.036942
L 521.398769 -626.744789
L 521.066369 -625.452637
L 520.786703 -624.160485
L 520.554558 -622.868332
L 520.36456 -621.57618
L 520.211431 -620.284027
L 520.090188 -618.991875
L 519.996298 -617.699723
L 519.925778 -616.40757
L 519.875262 -615.115418
L 519.842028 -613.823265
L 519.823994 -612.531113
L 519.819702 -611.238961
L 519.828272 -609.946808
L 519.849348 -608.654656
L 519.883035 -607.362503
L 519.929816 -606.070351
L 519.990469 -604.778199
L 520.065968 -603.486046
L 520.15738 -602.193894
L 520.265742 -600.901741
L 520.391948 -599.609589
L 520.53662 -598.317437
L 520.699984 -597.025284
L 520.881751 -595.733132
L 521.081016 -594.440979
L 521.296173 -593.148827
L 521.524861 -591.856675
L 521.763947 -590.564522
L 522.009548 -589.27237
L 522.257103 -587.980217
L 522.501484 -586.688065
L 522.737158 -585.395913
L 522.958382 -584.10376
L 523.159432 -582.811608
L 523.33484 -581.519455
L 523.479646 -580.227303
L 523.589625 -578.935151
L 523.661492 -577.642998
L 523.693068 -576.350846
L 523.683386 -575.058693
L 523.632743 -573.766541
L 523.542685 -572.474389
L 523.415923 -571.182236
L 523.256207 -569.890084
L 523.068133 -568.597931
L 522.856929 -567.305779
L 522.628212 -566.013627
L 522.387743 -564.721474
L 522.14119 -563.429322
L 521.893915 -562.137169
L 521.650792 -560.845017
L 521.416065 -559.552865
L 521.193258 -558.260712
L 520.985119 -556.96856
L 520.793618 -555.676407
L 520.619976 -554.384255
L 520.464725 -553.092103
L 520.327798 -551.79995
L 520.208625 -550.507798
z
" style="stroke: #828282"/>
</defs>
<g clip-path="url(#p2579b89960)">
<use href="#m55d46b4ace" x="0" y="712.176481" style="fill: #c3e0f6; stroke: #828282"/>
</g>
</g>
<g id="FillBetweenPolyCollection_9">
<defs>
<path id="mb37a348005" d="M 597.104056 -548.678759
L 596.677428 -548.678759
L 596.632842 -550.007862
L 596.581873 -551.336965
L 596.524314 -552.666067
L 596.460123 -553.99517
L 596.389452 -555.324273
L 596.312678 -556.653376
L 596.230422 -557.982478
L 596.143565 -559.311581
L 596.053244 -560.640684
L 595.960844 -561.969786
L 595.867972 -563.298889
L 595.776417 -564.627992
L 595.6881 -565.957094
L 595.605005 -567.286197
L 595.529112 -568.6153
L 595.462318 -569.944402
L 595.406357 -571.273505
L 595.36273 -572.602608
L 595.332632 -573.93171
L 595.316903 -575.260813
L 595.315983 -576.589916
L 595.329901 -577.919018
L 595.358263 -579.248121
L 595.400277 -580.577224
L 595.454788 -581.906326
L 595.520332 -583.235429
L 595.595196 -584.564532
L 595.677499 -585.893634
L 595.765265 -587.222737
L 595.856502 -588.55184
L 595.949274 -589.880942
L 596.041767 -591.210045
L 596.132338 -592.539148
L 596.21956 -593.86825
L 596.302244 -595.197353
L 596.379449 -596.526456
L 596.450484 -597.855558
L 596.51489 -599.184661
L 596.572413 -600.513764
L 596.622976 -601.842866
L 596.666638 -603.171969
L 596.703549 -604.501072
L 596.733911 -605.830174
L 596.757931 -607.159277
L 596.775782 -608.48838
L 596.787563 -609.817482
L 596.793268 -611.146585
L 596.792754 -612.475688
L 596.785723 -613.80479
L 596.771701 -615.133893
L 596.750037 -616.462996
L 596.719903 -617.792098
L 596.680303 -619.121201
L 596.630102 -620.450304
L 596.568058 -621.779406
L 596.49287 -623.108509
L 596.403243 -624.437612
L 596.297956 -625.766714
L 596.17595 -627.095817
L 596.036417 -628.42492
L 595.878895 -629.754022
L 595.703367 -631.083125
L 595.510342 -632.412228
L 595.300939 -633.74133
L 595.076937 -635.070433
L 594.840813 -636.399536
L 594.595734 -637.728638
L 594.345529 -639.057741
L 594.094614 -640.386844
L 593.847881 -641.715946
L 593.610552 -643.045049
L 593.388006 -644.374152
L 593.185581 -645.703254
L 593.008363 -647.032357
L 592.860975 -648.36146
L 592.747377 -649.690562
L 592.670693 -651.019665
L 592.633063 -652.348768
L 592.635548 -653.67787
L 592.678077 -655.006973
L 592.759452 -656.336076
L 592.877407 -657.665178
L 593.028706 -658.994281
L 593.209297 -660.323384
L 593.414489 -661.652486
L 593.639154 -662.981589
L 593.877939 -664.310692
L 594.125475 -665.639794
L 594.376573 -666.968897
L 594.626395 -668.298
L 594.870597 -669.627102
L 595.105433 -670.956205
L 595.327828 -672.285308
L 595.535403 -673.614411
L 595.726477 -674.943513
L 595.900031 -676.272616
L 596.055652 -677.601719
L 596.193457 -678.930821
L 596.314004 -680.259924
L 597.46748 -680.259924
L 597.46748 -680.259924
L 597.588027 -678.930821
L 597.725831 -677.601719
L 597.881452 -676.272616
L 598.055007 -674.943513
L 598.24608 -673.614411
L 598.453655 -672.285308
L 598.67605 -670.956205
L 598.910887 -669.627102
L 599.155088 -668.298
L 599.40491 -666.968897
L 599.656008 -665.639794
L 599.903544 -664.310692
L 600.142329 -662.981589
L 600.366994 -661.652486
L 600.572186 -660.323384
L 600.752777 -658.994281
L 600.904077 -657.665178
L 601.022031 -656.336076
L 601.103407 -655.006973
L 601.145935 -653.67787
L 601.14842 -652.348768
L 601.11079 -651.019665
L 601.034106 -649.690562
L 600.920509 -648.36146
L 600.77312 -647.032357
L 600.595902 -645.703254
L 600.393477 -644.374152
L 600.170932 -643.045049
L 599.933602 -641.715946
L 599.686869 -640.386844
L 599.435954 -639.057741
L 599.18575 -637.728638
L 598.940671 -636.399536
L 598.704546 -635.070433
L 598.480545 -633.74133
L 598.271141 -632.412228
L 598.078117 -631.083125
L 597.902588 -629.754022
L 597.745067 -628.42492
L 597.605534 -627.095817
L 597.483528 -625.766714
L 597.378241 -624.437612
L 597.288613 -623.108509
L 597.213426 -621.779406
L 597.151381 -620.450304
L 597.10118 -619.121201
L 597.061581 -617.792098
L 597.031446 -616.462996
L 597.009783 -615.133893
L 596.995761 -613.80479
L 596.988729 -612.475688
L 596.988215 -611.146585
L 596.99392 -609.817482
L 597.005701 -608.48838
L 597.023552 -607.159277
L 597.047572 -605.830174
L 597.077934 -604.501072
L 597.114845 -603.171969
L 597.158507 -601.842866
L 597.20907 -600.513764
L 597.266594 -599.184661
L 597.330999 -597.855558
L 597.402034 -596.526456
L 597.47924 -595.197353
L 597.561923 -593.86825
L 597.649145 -592.539148
L 597.739717 -591.210045
L 597.832209 -589.880942
L 597.924981 -588.55184
L 598.016218 -587.222737
L 598.103984 -585.893634
L 598.186287 -584.564532
L 598.261152 -583.235429
L 598.326695 -581.906326
L 598.381207 -580.577224
L 598.423221 -579.248121
L 598.451583 -577.919018
L 598.4655 -576.589916
L 598.464581 -575.260813
L 598.448851 -573.93171
L 598.418753 -572.602608
L 598.375126 -571.273505
L 598.319166 -569.944402
L 598.252372 -568.6153
L 598.176479 -567.286197
L 598.093384 -565.957094
L 598.005066 -564.627992
L 597.913512 -563.298889
L 597.82064 -561.969786
L 597.72824 -560.640684
L 597.637919 -559.311581
L 597.551061 -557.982478
L 597.468806 -556.653376
L 597.392031 -555.324273
L 597.32136 -553.99517
L 597.257169 -552.666067
L 597.19961 -551.336965
L 597.148642 -550.007862
L 597.104056 -548.678759
z
" style="stroke: #828282"/>
</defs>
<g clip-path="url(#p2579b89960)">
<use href="#mb37a348005" x="0" y="712.176481" style="fill: #f6bcc2; stroke: #828282"/>
</g>
</g>
<g id="FillBetweenPolyCollection_10">
<defs>
<path id="m438ba3fe5d" d="M 648.678837 -559.307494
L 648.072944 -559.307494
L 647.983769 -560.421874
L 647.877306 -561.536255
L 647.753129 -562.650636
L 647.611756 -563.765017
L 647.454844 -564.879397
L 647.285308 -565.993778
L 647.107363 -567.108159
L 646.926432 -568.22254
L 646.748933 -569.33692
L 646.581938 -570.451301
L 646.432721 -571.565682
L 646.308252 -572.680063
L 646.214649 -573.794444
L 646.15669 -574.908824
L 646.137406 -576.023205
L 646.157814 -577.137586
L 646.216838 -578.251967
L 646.311391 -579.366347
L 646.436655 -580.480728
L 646.586475 -581.595109
L 646.753871 -582.70949
L 646.931563 -583.82387
L 647.112493 -584.938251
L 647.290269 -586.052632
L 647.459497 -587.167013
L 647.616002 -588.281394
L 647.756903 -589.395774
L 647.880578 -590.510155
L 647.98654 -591.624536
L 648.075237 -592.738917
L 648.147826 -593.853297
L 648.205944 -594.967678
L 648.251487 -596.082059
L 648.286433 -597.19644
L 648.312698 -598.310821
L 648.332039 -599.425201
L 648.345998 -600.539582
L 648.355873 -601.653963
L 648.362722 -602.768344
L 648.36738 -603.882724
L 648.370487 -604.997105
L 648.372518 -606.111486
L 648.373819 -607.225867
L 648.374632 -608.340247
L 648.375123 -609.454628
L 648.375398 -610.569009
L 648.375518 -611.68339
L 648.375506 -612.797771
L 648.375349 -613.912151
L 648.374987 -615.026532
L 648.374302 -616.140913
L 648.373083 -617.255294
L 648.370983 -618.369674
L 648.367446 -619.484055
L 648.36161 -620.598436
L 648.352161 -621.712817
L 648.337154 -622.827197
L 648.313773 -623.941578
L 648.278037 -625.055959
L 648.224463 -626.17034
L 648.145695 -627.284721
L 648.032132 -628.399101
L 647.871606 -629.513482
L 647.649179 -630.627863
L 647.347132 -631.742244
L 646.945254 -632.856624
L 646.421508 -633.971005
L 645.753155 -635.085386
L 644.918376 -636.199767
L 643.898366 -637.314147
L 642.679805 -638.428528
L 641.257536 -639.542909
L 639.637181 -640.65729
L 637.837373 -641.771671
L 635.891243 -642.886051
L 633.846827 -644.000432
L 631.766126 -645.114813
L 629.722666 -646.229194
L 627.79762 -647.343574
L 626.074682 -648.457955
L 624.634155 -649.572336
L 623.546784 -650.686717
L 622.868017 -651.801097
L 622.633316 -652.915478
L 622.855093 -654.029859
L 623.521617 -655.14424
L 624.598048 -656.258621
L 626.02945 -657.373001
L 627.745434 -658.487382
L 629.665888 -659.601763
L 631.707125 -660.716144
L 633.78783 -661.830524
L 635.834196 -662.944905
L 637.783855 -664.059286
L 639.588352 -665.173667
L 641.214134 -666.288047
L 642.642171 -667.402428
L 643.8665 -668.516809
L 644.892005 -669.63119
L 651.859775 -669.63119
L 651.859775 -669.63119
L 652.88528 -668.516809
L 654.109609 -667.402428
L 655.537646 -666.288047
L 657.163428 -665.173667
L 658.967926 -664.059286
L 660.917585 -662.944905
L 662.96395 -661.830524
L 665.044655 -660.716144
L 667.085893 -659.601763
L 669.006346 -658.487382
L 670.722331 -657.373001
L 672.153732 -656.258621
L 673.230163 -655.14424
L 673.896688 -654.029859
L 674.118464 -652.915478
L 673.883764 -651.801097
L 673.204996 -650.686717
L 672.117626 -649.572336
L 670.677098 -648.457955
L 668.954161 -647.343574
L 667.029114 -646.229194
L 664.985655 -645.114813
L 662.904953 -644.000432
L 660.860538 -642.886051
L 658.914408 -641.771671
L 657.1146 -640.65729
L 655.494245 -639.542909
L 654.071976 -638.428528
L 652.853414 -637.314147
L 651.833404 -636.199767
L 650.998625 -635.085386
L 650.330273 -633.971005
L 649.806526 -632.856624
L 649.404648 -631.742244
L 649.102602 -630.627863
L 648.880174 -629.513482
L 648.719649 -628.399101
L 648.606085 -627.284721
L 648.527317 -626.17034
L 648.473743 -625.055959
L 648.438007 -623.941578
L 648.414626 -622.827197
L 648.39962 -621.712817
L 648.390171 -620.598436
L 648.384334 -619.484055
L 648.380798 -618.369674
L 648.378698 -617.255294
L 648.377479 -616.140913
L 648.376793 -615.026532
L 648.376432 -613.912151
L 648.376274 -612.797771
L 648.376263 -611.68339
L 648.376383 -610.569009
L 648.376658 -609.454628
L 648.377148 -608.340247
L 648.377962 -607.225867
L 648.379262 -606.111486
L 648.381293 -604.997105
L 648.3844 -603.882724
L 648.389058 -602.768344
L 648.395907 -601.653963
L 648.405782 -600.539582
L 648.419741 -599.425201
L 648.439083 -598.310821
L 648.465347 -597.19644
L 648.500293 -596.082059
L 648.545837 -594.967678
L 648.603954 -593.853297
L 648.676544 -592.738917
L 648.76524 -591.624536
L 648.871202 -590.510155
L 648.994878 -589.395774
L 649.135778 -588.281394
L 649.292283 -587.167013
L 649.461512 -586.052632
L 649.639287 -584.938251
L 649.820218 -583.82387
L 649.99791 -582.70949
L 650.165305 -581.595109
L 650.315126 -580.480728
L 650.440389 -579.366347
L 650.534943 -578.251967
L 650.593966 -577.137586
L 650.614375 -576.023205
L 650.59509 -574.908824
L 650.537131 -573.794444
L 650.443529 -572.680063
L 650.319059 -571.565682
L 650.169843 -570.451301
L 650.002847 -569.33692
L 649.825348 -568.22254
L 649.644417 -567.108159
L 649.466472 -565.993778
L 649.296937 -564.879397
L 649.140024 -563.765017
L 648.998652 -562.650636
L 648.874474 -561.536255
L 648.768011 -560.421874
L 648.678837 -559.307494
z
" style="stroke: #828282"/>
</defs>
<g clip-path="url(#p2579b89960)">
<use href="#m438ba3fe5d" x="0" y="712.176481" style="fill: #c3e0f6; stroke: #828282"/>
</g>
</g>
<g id="FillBetweenPolyCollection_11">
<defs>
<path id="me56914deda" d="M 725.855361 -546.847495
L 725.351865 -546.847495
L 725.301309 -548.213593
L 725.243773 -549.579691
L 725.179031 -550.945789
L 725.107019 -552.311887
L 725.02787 -553.677985
L 724.941941 -555.044083
L 724.849833 -556.410181
L 724.75241 -557.776279
L 724.650796 -559.142376
L 724.546375 -560.508474
L 724.440764 -561.874572
L 724.335783 -563.24067
L 724.233406 -564.606768
L 724.135707 -565.972866
L 724.044786 -567.338964
L 723.962703 -568.705062
L 723.891395 -570.07116
L 723.832605 -571.437258
L 723.787808 -572.803355
L 723.75815 -574.169453
L 723.744402 -575.535551
L 723.746922 -576.901649
L 723.765645 -578.267747
L 723.800081 -579.633845
L 723.849337 -580.999943
L 723.912158 -582.366041
L 723.986978 -583.732139
L 724.071983 -585.098237
L 724.165184 -586.464335
L 724.264497 -587.830432
L 724.36781 -589.19653
L 724.473063 -590.562628
L 724.578305 -591.928726
L 724.68175 -593.294824
L 724.781816 -594.660922
L 724.877154 -596.02702
L 724.966657 -597.393118
L 725.049463 -598.759216
L 725.124943 -600.125314
L 725.192675 -601.491412
L 725.252414 -602.857509
L 725.304056 -604.223607
L 725.347597 -605.589705
L 725.383087 -606.955803
L 725.410594 -608.321901
L 725.430158 -609.687999
L 725.441762 -611.054097
L 725.445301 -612.420195
L 725.44056 -613.786293
L 725.427203 -615.152391
L 725.404767 -616.518489
L 725.372669 -617.884586
L 725.330225 -619.250684
L 725.276674 -620.616782
L 725.211222 -621.98288
L 725.133083 -623.348978
L 725.041541 -624.715076
L 724.936012 -626.081174
L 724.816113 -627.447272
L 724.68173 -628.81337
L 724.533087 -630.179468
L 724.370807 -631.545566
L 724.195963 -632.911663
L 724.010112 -634.277761
L 723.815313 -635.643859
L 723.614123 -637.009957
L 723.409564 -638.376055
L 723.205067 -639.742153
L 723.004394 -641.108251
L 722.811527 -642.474349
L 722.630551 -643.840447
L 722.465505 -645.206545
L 722.320243 -646.572642
L 722.19828 -647.93874
L 722.102655 -649.304838
L 722.035804 -650.670936
L 721.999455 -652.037034
L 721.99456 -653.403132
L 722.021247 -654.76923
L 722.078816 -656.135328
L 722.165775 -657.501426
L 722.279896 -658.867524
L 722.418317 -660.233622
L 722.577654 -661.599719
L 722.754148 -662.965817
L 722.9438 -664.331915
L 723.142532 -665.698013
L 723.346319 -667.064111
L 723.551328 -668.430209
L 723.754028 -669.796307
L 723.951277 -671.162405
L 724.140393 -672.528503
L 724.31919 -673.894601
L 724.485994 -675.260699
L 724.639636 -676.626796
L 724.779423 -677.992894
L 724.9051 -679.358992
L 725.016787 -680.72509
L 725.114925 -682.091188
L 726.092301 -682.091188
L 726.092301 -682.091188
L 726.190439 -680.72509
L 726.302126 -679.358992
L 726.427802 -677.992894
L 726.56759 -676.626796
L 726.721232 -675.260699
L 726.888036 -673.894601
L 727.066833 -672.528503
L 727.255949 -671.162405
L 727.453198 -669.796307
L 727.655898 -668.430209
L 727.860907 -667.064111
L 728.064694 -665.698013
L 728.263426 -664.331915
L 728.453078 -662.965817
L 728.629572 -661.599719
L 728.788909 -660.233622
L 728.92733 -658.867524
L 729.041451 -657.501426
L 729.12841 -656.135328
L 729.185979 -654.76923
L 729.212666 -653.403132
L 729.207771 -652.037034
L 729.171422 -650.670936
L 729.104571 -649.304838
L 729.008946 -647.93874
L 728.886983 -646.572642
L 728.741721 -645.206545
L 728.576675 -643.840447
L 728.395699 -642.474349
L 728.202832 -641.108251
L 728.002159 -639.742153
L 727.797662 -638.376055
L 727.593103 -637.009957
L 727.391913 -635.643859
L 727.197114 -634.277761
L 727.011263 -632.911663
L 726.836419 -631.545566
L 726.674139 -630.179468
L 726.525496 -628.81337
L 726.391113 -627.447272
L 726.271214 -626.081174
L 726.165685 -624.715076
L 726.074143 -623.348978
L 725.996004 -621.98288
L 725.930552 -620.616782
L 725.877001 -619.250684
L 725.834557 -617.884586
L 725.802459 -616.518489
L 725.780023 -615.152391
L 725.766666 -613.786293
L 725.761925 -612.420195
L 725.765464 -611.054097
L 725.777068 -609.687999
L 725.796632 -608.321901
L 725.824139 -606.955803
L 725.859629 -605.589705
L 725.90317 -604.223607
L 725.954812 -602.857509
L 726.014551 -601.491412
L 726.082283 -600.125314
L 726.157763 -598.759216
L 726.240569 -597.393118
L 726.330072 -596.02702
L 726.425409 -594.660922
L 726.525476 -593.294824
L 726.628921 -591.928726
L 726.734163 -590.562628
L 726.839416 -589.19653
L 726.942729 -587.830432
L 727.042042 -586.464335
L 727.135243 -585.098237
L 727.220248 -583.732139
L 727.295068 -582.366041
L 727.357889 -580.999943
L 727.407145 -579.633845
L 727.441581 -578.267747
L 727.460304 -576.901649
L 727.462824 -575.535551
L 727.449076 -574.169453
L 727.419418 -572.803355
L 727.374621 -571.437258
L 727.315831 -570.07116
L 727.244523 -568.705062
L 727.16244 -567.338964
L 727.071519 -565.972866
L 726.97382 -564.606768
L 726.871443 -563.24067
L 726.766462 -561.874572
L 726.660851 -560.508474
L 726.55643 -559.142376
L 726.454816 -557.776279
L 726.357393 -556.410181
L 726.265285 -555.044083
L 726.179356 -553.677985
L 726.100207 -552.311887
L 726.028195 -550.945789
L 725.963453 -549.579691
L 725.905917 -548.213593
L 725.855361 -546.847495
z
" style="stroke: #828282"/>
</defs>
<g clip-path="url(#p2579b89960)">
<use href="#me56914deda" x="0" y="712.176481" style="fill: #f6bcc2; stroke: #828282"/>
</g>
</g>
<g id="FillBetweenPolyCollection_12">
<defs>
<path id="m0a876eb168" d="M 777.468133 -556.003857
L 776.70939 -556.003857
L 776.611662 -557.184978
L 776.497068 -558.366099
L 776.365111 -559.54722
L 776.215983 -560.728341
L 776.050701 -561.909462
L 775.871217 -563.090583
L 775.680477 -564.271704
L 775.482413 -565.452825
L 775.281869 -566.633946
L 775.084434 -567.815066
L 774.896217 -568.996187
L 774.723541 -570.177308
L 774.5726 -571.358429
L 774.449097 -572.53955
L 774.357882 -573.720671
L 774.302641 -574.901792
L 774.285648 -576.082913
L 774.307607 -577.264034
L 774.367609 -578.445154
L 774.463187 -579.626275
L 774.590493 -580.807396
L 774.744546 -581.988517
L 774.919562 -583.169638
L 775.10931 -584.350759
L 775.307475 -585.53188
L 775.508001 -586.713001
L 775.70538 -587.894122
L 775.894879 -589.075242
L 776.07269 -590.256363
L 776.235993 -591.437484
L 776.382962 -592.618605
L 776.512692 -593.799726
L 776.625088 -594.980847
L 776.720722 -596.161968
L 776.800676 -597.343089
L 776.86638 -598.52421
L 776.919471 -599.705331
L 776.961663 -600.886451
L 776.994643 -602.067572
L 777.019998 -603.248693
L 777.039161 -604.429814
L 777.053379 -605.610935
L 777.063696 -606.792056
L 777.070953 -607.973177
L 777.075788 -609.154298
L 777.078637 -610.335419
L 777.079737 -611.516539
L 777.079111 -612.69766
L 777.076547 -613.878781
L 777.071555 -615.059902
L 777.063311 -616.241023
L 777.05057 -617.422144
L 777.031559 -618.603265
L 777.003854 -619.784386
L 776.964226 -620.965507
L 776.908486 -622.146627
L 776.831326 -623.327748
L 776.726184 -624.508869
L 776.585144 -625.68999
L 776.398915 -626.871111
L 776.156898 -628.052232
L 775.847405 -629.233353
L 775.45802 -630.414474
L 774.976161 -631.595595
L 774.389821 -632.776716
L 773.688496 -633.957836
L 772.864257 -635.138957
L 771.912904 -636.320078
L 770.835129 -637.501199
L 769.637567 -638.68232
L 768.333625 -639.863441
L 766.943962 -641.044562
L 765.496516 -642.225683
L 764.025996 -643.406804
L 762.572786 -644.587924
L 761.181302 -645.769045
L 759.897849 -646.950166
L 758.768125 -648.131287
L 757.834552 -649.312408
L 757.133642 -650.493529
L 756.693631 -651.67465
L 756.532594 -652.855771
L 756.657211 -654.036892
L 757.062309 -655.218012
L 757.731219 -656.399133
L 758.636911 -657.580254
L 759.743808 -658.761375
L 761.010101 -659.942496
L 762.39036 -661.123617
L 763.838213 -662.304738
L 765.308875 -663.485859
L 766.76134 -664.66698
L 768.160104 -665.848101
L 769.47632 -667.029221
L 770.688389 -668.210342
L 771.781994 -669.391463
L 772.749674 -670.572584
L 773.590033 -671.753705
L 774.306707 -672.934826
L 779.870816 -672.934826
L 779.870816 -672.934826
L 780.58749 -671.753705
L 781.427849 -670.572584
L 782.395529 -669.391463
L 783.489134 -668.210342
L 784.701203 -667.029221
L 786.017419 -665.848101
L 787.416183 -664.66698
L 788.868648 -663.485859
L 790.33931 -662.304738
L 791.787163 -661.123617
L 793.167422 -659.942496
L 794.433715 -658.761375
L 795.540612 -657.580254
L 796.446304 -656.399133
L 797.115214 -655.218012
L 797.520312 -654.036892
L 797.644929 -652.855771
L 797.483892 -651.67465
L 797.043881 -650.493529
L 796.342971 -649.312408
L 795.409398 -648.131287
L 794.279674 -646.950166
L 792.996221 -645.769045
L 791.604737 -644.587924
L 790.151527 -643.406804
L 788.681007 -642.225683
L 787.233561 -641.044562
L 785.843898 -639.863441
L 784.539956 -638.68232
L 783.342394 -637.501199
L 782.264619 -636.320078
L 781.313266 -635.138957
L 780.489027 -633.957836
L 779.787702 -632.776716
L 779.201362 -631.595595
L 778.719503 -630.414474
L 778.330118 -629.233353
L 778.020625 -628.052232
L 777.778608 -626.871111
L 777.592379 -625.68999
L 777.451339 -624.508869
L 777.346197 -623.327748
L 777.269037 -622.146627
L 777.213297 -620.965507
L 777.173669 -619.784386
L 777.145964 -618.603265
L 777.126953 -617.422144
L 777.114212 -616.241023
L 777.105968 -615.059902
L 777.100976 -613.878781
L 777.098412 -612.69766
L 777.097786 -611.516539
L 777.098886 -610.335419
L 777.101735 -609.154298
L 777.10657 -607.973177
L 777.113827 -606.792056
L 777.124144 -605.610935
L 777.138362 -604.429814
L 777.157525 -603.248693
L 777.18288 -602.067572
L 777.21586 -600.886451
L 777.258052 -599.705331
L 777.311143 -598.52421
L 777.376847 -597.343089
L 777.456801 -596.161968
L 777.552435 -594.980847
L 777.664831 -593.799726
L 777.794561 -592.618605
L 777.94153 -591.437484
L 778.104833 -590.256363
L 778.282644 -589.075242
L 778.472143 -587.894122
L 778.669522 -586.713001
L 778.870048 -585.53188
L 779.068213 -584.350759
L 779.257961 -583.169638
L 779.432977 -581.988517
L 779.58703 -580.807396
L 779.714336 -579.626275
L 779.809914 -578.445154
L 779.869916 -577.264034
L 779.891875 -576.082913
L 779.874882 -574.901792
L 779.819641 -573.720671
L 779.728426 -572.53955
L 779.604923 -571.358429
L 779.453982 -570.177308
L 779.281306 -568.996187
L 779.093089 -567.815066
L 778.895655 -566.633946
L 778.69511 -565.452825
L 778.497046 -564.271704
L 778.306306 -563.090583
L 778.126822 -561.909462
L 777.96154 -560.728341
L 777.812412 -559.54722
L 777.680455 -558.366099
L 777.565861 -557.184978
L 777.468133 -556.003857
z
" style="stroke: #828282"/>
</defs>
<g clip-path="url(#p2579b89960)">
<use href="#m0a876eb168" x="0" y="712.176481" style="fill: #c3e0f6; stroke: #828282"/>
</g>
</g>
<g id="FillBetweenPolyCollection_13">
<defs>
<path id="m3f28900d48" d="M 855.505939 -559.307494
L 853.12703 -559.307494
L 852.776905 -560.421874
L 852.3589 -561.536255
L 851.871345 -562.650636
L 851.316277 -563.765017
L 850.700192 -564.879397
L 850.034547 -565.993778
L 849.335884 -567.108159
L 848.625498 -568.22254
L 847.928586 -569.33692
L 847.272912 -570.451301
L 846.687048 -571.565682
L 846.198344 -572.680063
L 845.830833 -573.794444
L 845.603271 -574.908824
L 845.527553 -576.023205
L 845.607683 -577.137586
L 845.839425 -578.251967
L 846.210671 -579.366347
L 846.702491 -580.480728
L 847.29073 -581.595109
L 847.947972 -582.70949
L 848.645642 -583.82387
L 849.356027 -584.938251
L 850.054023 -586.052632
L 850.718464 -587.167013
L 851.332947 -588.281394
L 851.886163 -589.395774
L 852.371748 -590.510155
L 852.787785 -591.624536
L 853.136033 -592.738917
L 853.42104 -593.853297
L 853.649227 -594.967678
L 853.828042 -596.082059
L 853.96525 -597.19644
L 854.068373 -598.310821
L 854.144313 -599.425201
L 854.19912 -600.539582
L 854.237892 -601.653963
L 854.264785 -602.768344
L 854.283076 -603.882724
L 854.295277 -604.997105
L 854.303259 -606.111486
L 854.308383 -607.225867
L 854.311609 -608.340247
L 854.313601 -609.454628
L 854.314809 -610.569009
L 854.315526 -611.68339
L 854.315942 -612.797771
L 854.316176 -613.912151
L 854.316299 -615.026532
L 854.316353 -616.140913
L 854.316357 -617.255294
L 854.316316 -618.369674
L 854.316222 -619.484055
L 854.316055 -620.598436
L 854.315777 -621.712817
L 854.315333 -622.827197
L 854.31464 -623.941578
L 854.313579 -625.055959
L 854.311989 -626.17034
L 854.30965 -627.284721
L 854.306279 -628.399101
L 854.301513 -629.513482
L 854.294909 -630.627863
L 854.285942 -631.742244
L 854.274011 -632.856624
L 854.258462 -633.971005
L 854.23862 -635.085386
L 854.213836 -636.199767
L 854.183554 -637.314147
L 854.147377 -638.428528
L 854.105152 -639.542909
L 854.057046 -640.65729
L 854.003613 -641.771671
L 853.945836 -642.886051
L 853.88514 -644.000432
L 853.823368 -645.114813
L 853.762701 -646.229194
L 853.705549 -647.343574
L 853.654398 -648.457955
L 853.611631 -649.572336
L 853.579349 -650.686717
L 853.559197 -651.801097
L 853.552229 -652.915478
L 853.558814 -654.029859
L 853.578602 -655.14424
L 853.610559 -656.258621
L 853.653055 -657.373001
L 853.704 -658.487382
L 853.761015 -659.601763
L 853.821616 -660.716144
L 853.883389 -661.830524
L 853.944142 -662.944905
L 854.002024 -664.059286
L 854.055597 -665.173667
L 854.103863 -666.288047
L 854.14626 -667.402428
L 854.182608 -668.516809
L 854.213053 -669.63119
L 854.419915 -669.63119
L 854.419915 -669.63119
L 854.450361 -668.516809
L 854.486709 -667.402428
L 854.529105 -666.288047
L 854.577372 -665.173667
L 854.630944 -664.059286
L 854.688827 -662.944905
L 854.74958 -661.830524
L 854.811353 -660.716144
L 854.871954 -659.601763
L 854.928969 -658.487382
L 854.979914 -657.373001
L 855.02241 -656.258621
L 855.054367 -655.14424
L 855.074155 -654.029859
L 855.080739 -652.915478
L 855.073771 -651.801097
L 855.05362 -650.686717
L 855.021338 -649.572336
L 854.978571 -648.457955
L 854.927419 -647.343574
L 854.870268 -646.229194
L 854.809601 -645.114813
L 854.747828 -644.000432
L 854.687133 -642.886051
L 854.629356 -641.771671
L 854.575922 -640.65729
L 854.527817 -639.542909
L 854.485592 -638.428528
L 854.449415 -637.314147
L 854.419132 -636.199767
L 854.394349 -635.085386
L 854.374507 -633.971005
L 854.358958 -632.856624
L 854.347026 -631.742244
L 854.338059 -630.627863
L 854.331456 -629.513482
L 854.32669 -628.399101
L 854.323318 -627.284721
L 854.32098 -626.17034
L 854.31939 -625.055959
L 854.318329 -623.941578
L 854.317636 -622.827197
L 854.317191 -621.712817
L 854.316914 -620.598436
L 854.316746 -619.484055
L 854.316652 -618.369674
L 854.316611 -617.255294
L 854.316615 -616.140913
L 854.316669 -615.026532
L 854.316793 -613.912151
L 854.317027 -612.797771
L 854.317443 -611.68339
L 854.31816 -610.569009
L 854.319367 -609.454628
L 854.32136 -608.340247
L 854.324586 -607.225867
L 854.329709 -606.111486
L 854.337692 -604.997105
L 854.349893 -603.882724
L 854.368184 -602.768344
L 854.395077 -601.653963
L 854.433849 -600.539582
L 854.488655 -599.425201
L 854.564595 -598.310821
L 854.667719 -597.19644
L 854.804927 -596.082059
L 854.983742 -594.967678
L 855.211929 -593.853297
L 855.496935 -592.738917
L 855.845184 -591.624536
L 856.26122 -590.510155
L 856.746806 -589.395774
L 857.300021 -588.281394
L 857.914505 -587.167013
L 858.578945 -586.052632
L 859.276942 -584.938251
L 859.987327 -583.82387
L 860.684997 -582.70949
L 861.342239 -581.595109
L 861.930478 -580.480728
L 862.422297 -579.366347
L 862.793543 -578.251967
L 863.025285 -577.137586
L 863.105416 -576.023205
L 863.029698 -574.908824
L 862.802136 -573.794444
L 862.434625 -572.680063
L 861.945921 -571.565682
L 861.360056 -570.451301
L 860.704382 -569.33692
L 860.007471 -568.22254
L 859.297084 -567.108159
L 858.598422 -565.993778
L 857.932777 -564.879397
L 857.316692 -563.765017
L 856.761624 -562.650636
L 856.274069 -561.536255
L 855.856063 -560.421874
L 855.505939 -559.307494
z
" style="stroke: #828282"/>
</defs>
<g clip-path="url(#p2579b89960)">
<use href="#m3f28900d48" x="0" y="712.176481" style="fill: #f6bcc2; stroke: #828282"/>
</g>
</g>
<g id="FillBetweenPolyCollection_14">
<defs>
<path id="mf25201513e" d="M 906.474186 -547.798617
L 905.12908 -547.798617
L 904.991248 -549.145501
L 904.834033 -550.492384
L 904.656806 -551.839267
L 904.459413 -553.186151
L 904.24227 -554.533034
L 904.006444 -555.879917
L 903.753714 -557.226801
L 903.486612 -558.573684
L 903.208429 -559.920567
L 902.923186 -561.267451
L 902.635572 -562.614334
L 902.350831 -563.961217
L 902.074625 -565.308101
L 901.812852 -566.654984
L 901.571444 -568.001867
L 901.356149 -569.348751
L 901.172306 -570.695634
L 901.024622 -572.042517
L 900.916973 -573.3894
L 900.852238 -574.736284
L 900.832169 -576.083167
L 900.857312 -577.43005
L 900.926981 -578.776934
L 901.039292 -580.123817
L 901.191245 -581.4707
L 901.378858 -582.817584
L 901.597338 -584.164467
L 901.841284 -585.51135
L 902.104908 -586.858234
L 902.382256 -588.205117
L 902.667428 -589.552
L 902.954775 -590.898884
L 903.239069 -592.245767
L 903.515638 -593.59265
L 903.780462 -594.939534
L 904.030228 -596.286417
L 904.262346 -597.6333
L 904.474922 -598.980184
L 904.666706 -600.327067
L 904.837003 -601.67395
L 904.985577 -603.020833
L 905.112525 -604.367717
L 905.218155 -605.7146
L 905.30286 -607.061483
L 905.366992 -608.408367
L 905.41075 -609.75525
L 905.43408 -611.102133
L 905.436587 -612.449017
L 905.417478 -613.7959
L 905.375514 -615.142783
L 905.309004 -616.489667
L 905.215812 -617.83655
L 905.093409 -619.183433
L 904.938947 -620.530317
L 904.749374 -621.8772
L 904.521578 -623.224083
L 904.252568 -624.570967
L 903.939672 -625.91785
L 903.580771 -627.264733
L 903.174534 -628.611617
L 902.720661 -629.9585
L 902.22011 -631.305383
L 901.675301 -632.652266
L 901.090278 -633.99915
L 900.470811 -635.346033
L 899.824427 -636.692916
L 899.160357 -638.0398
L 898.489399 -639.386683
L 897.823677 -640.733566
L 897.17632 -642.08045
L 896.561061 -643.427333
L 895.991764 -644.774216
L 895.481921 -646.1211
L 895.044121 -647.467983
L 894.68954 -648.814866
L 894.427467 -650.16175
L 894.264896 -651.508633
L 894.206225 -652.855516
L 894.253049 -654.2024
L 894.404095 -655.549283
L 894.655275 -656.896166
L 894.999872 -658.243049
L 895.428839 -659.589933
L 895.931192 -660.936816
L 896.494477 -662.283699
L 897.105282 -663.630583
L 897.749763 -664.977466
L 898.414158 -666.324349
L 899.085257 -667.671233
L 899.750823 -669.018116
L 900.399918 -670.364999
L 901.023157 -671.711883
L 901.61286 -673.058766
L 902.16312 -674.405649
L 902.669786 -675.752533
L 903.130369 -677.099416
L 903.543899 -678.446299
L 903.910735 -679.793183
L 904.232343 -681.140066
L 907.370923 -681.140066
L 907.370923 -681.140066
L 907.692531 -679.793183
L 908.059366 -678.446299
L 908.472896 -677.099416
L 908.93348 -675.752533
L 909.440145 -674.405649
L 909.990406 -673.058766
L 910.580109 -671.711883
L 911.203348 -670.364999
L 911.852443 -669.018116
L 912.518008 -667.671233
L 913.189108 -666.324349
L 913.853502 -664.977466
L 914.497984 -663.630583
L 915.108789 -662.283699
L 915.672074 -660.936816
L 916.174427 -659.589933
L 916.603394 -658.243049
L 916.947991 -656.896166
L 917.19917 -655.549283
L 917.350216 -654.2024
L 917.39704 -652.855516
L 917.338369 -651.508633
L 917.175799 -650.16175
L 916.913725 -648.814866
L 916.559144 -647.467983
L 916.121345 -646.1211
L 915.611502 -644.774216
L 915.042205 -643.427333
L 914.426945 -642.08045
L 913.779589 -640.733566
L 913.113867 -639.386683
L 912.442908 -638.0398
L 911.778839 -636.692916
L 911.132454 -635.346033
L 910.512987 -633.99915
L 909.927965 -632.652266
L 909.383156 -631.305383
L 908.882604 -629.9585
L 908.428731 -628.611617
L 908.022495 -627.264733
L 907.663594 -625.91785
L 907.350698 -624.570967
L 907.081687 -623.224083
L 906.853892 -621.8772
L 906.664319 -620.530317
L 906.509857 -619.183433
L 906.387453 -617.83655
L 906.294262 -616.489667
L 906.227751 -615.142783
L 906.185788 -613.7959
L 906.166678 -612.449017
L 906.169186 -611.102133
L 906.192515 -609.75525
L 906.236274 -608.408367
L 906.300406 -607.061483
L 906.385111 -605.7146
L 906.490741 -604.367717
L 906.617689 -603.020833
L 906.766262 -601.67395
L 906.93656 -600.327067
L 907.128343 -598.980184
L 907.340919 -597.6333
L 907.573037 -596.286417
L 907.822804 -594.939534
L 908.087628 -593.59265
L 908.364197 -592.245767
L 908.648491 -590.898884
L 908.935838 -589.552
L 909.22101 -588.205117
L 909.498358 -586.858234
L 909.761981 -585.51135
L 910.005927 -584.164467
L 910.224407 -582.817584
L 910.41202 -581.4707
L 910.563974 -580.123817
L 910.676285 -578.776934
L 910.745954 -577.43005
L 910.771097 -576.083167
L 910.751028 -574.736284
L 910.686293 -573.3894
L 910.578644 -572.042517
L 910.430959 -570.695634
L 910.247116 -569.348751
L 910.031822 -568.001867
L 909.790414 -566.654984
L 909.52864 -565.308101
L 909.252434 -563.961217
L 908.967694 -562.614334
L 908.680079 -561.267451
L 908.394837 -559.920567
L 908.116653 -558.573684
L 907.849551 -557.226801
L 907.596821 -555.879917
L 907.360995 -554.533034
L 907.143853 -553.186151
L 906.94646 -551.839267
L 906.769233 -550.492384
L 906.612018 -549.145501
L 906.474186 -547.798617
z
" style="stroke: #828282"/>
</defs>
<g clip-path="url(#p2579b89960)">
<use href="#mf25201513e" x="0" y="712.176481" style="fill: #c3e0f6; stroke: #828282"/>
</g>
</g>
<g id="patch_3">
<path d="M 107.781831 136.169122
L 107.781831 136.169122
L 107.781831 136.169122
L 107.781831 136.169122
z
" clip-path="url(#p2579b89960)" style="fill: #f6bcc2; stroke: #828282; stroke-linejoin: miter"/>
</g>
<g id="patch_4">
<path d="M 107.781831 136.169122
L 107.781831 136.169122
L 107.781831 136.169122
L 107.781831 136.169122
z
" clip-path="url(#p2579b89960)" style="fill: #c3e0f6; stroke: #828282; stroke-linejoin: miter"/>
</g>
<g id="line2d_4">
</g>
<g id="line2d_5">
</g>
<g id="line2d_6">
<defs>
<path id="m05a0a95577" d="M 1.875 0
L -1.875 -0
" style="stroke: #ffffff; stroke-width: 0.9"/>
</defs>
<g clip-path="url(#p2579b89960)">
<use href="#m05a0a95577" x="82.039257" y="136.169122" style="fill: #ffffff; stroke: #ffffff; stroke-width: 0.9"/>
</g>
</g>
<g id="line2d_7">
<path d="M 133.524405 136.169122
L 133.524405 59.245156
" clip-path="url(#p2579b89960)" style="fill: none; stroke: #6a6a6a; stroke-width: 1.5; stroke-linecap: round"/>
</g>
<g id="line2d_8">
<path d="M 133.524405 136.169122
L 133.524405 59.245156
" clip-path="url(#p2579b89960)" style="fill: none; stroke: #6a6a6a; stroke-width: 4.2; stroke-linecap: round"/>
</g>
<g id="line2d_9">
<g clip-path="url(#p2579b89960)">
<use href="#m05a0a95577" x="133.524405" y="59.245156" style="fill: #ffffff; stroke: #ffffff; stroke-width: 0.9"/>
</g>
</g>
<g id="line2d_10">
</g>
<g id="line2d_11">
</g>
<g id="line2d_12">
<g clip-path="url(#p2579b89960)">
<use href="#m05a0a95577" x="210.752128" y="136.169122" style="fill: #ffffff; stroke: #ffffff; stroke-width: 0.9"/>
</g>
</g>
<g id="line2d_13">
</g>
<g id="line2d_14">
</g>
<g id="line2d_15">
<g clip-path="url(#p2579b89960)">
<use href="#m05a0a95577" x="262.237276" y="59.245156" style="fill: #ffffff; stroke: #ffffff; stroke-width: 0.9"/>
</g>
</g>
<g id="line2d_16">
</g>
<g id="line2d_17">
</g>
<g id="line2d_18">
<g clip-path="url(#p2579b89960)">
<use href="#m05a0a95577" x="339.464999" y="136.169122" style="fill: #ffffff; stroke: #ffffff; stroke-width: 0.9"/>
</g>
</g>
<g id="line2d_19">
</g>
<g id="line2d_20">
</g>
<g id="line2d_21">
<g clip-path="url(#p2579b89960)">
<use href="#m05a0a95577" x="390.950148" y="59.245156" style="fill: #ffffff; stroke: #ffffff; stroke-width: 0.9"/>
</g>
</g>
<g id="line2d_22">
<path d="M 468.17787 136.169122
L 468.17787 59.245156
" clip-path="url(#p2579b89960)" style="fill: none; stroke: #6a6a6a; stroke-width: 1.5; stroke-linecap: round"/>
</g>
<g id="line2d_23">
<path d="M 468.17787 136.169122
L 468.17787 59.245156
" clip-path="url(#p2579b89960)" style="fill: none; stroke: #6a6a6a; stroke-width: 4.2; stroke-linecap: round"/>
</g>
<g id="line2d_24">
<g clip-path="url(#p2579b89960)">
<use href="#m05a0a95577" x="468.17787" y="136.169122" style="fill: #ffffff; stroke: #ffffff; stroke-width: 0.9"/>
</g>
</g>
<g id="line2d_25">
</g>
<g id="line2d_26">
</g>
<g id="line2d_27">
<g clip-path="url(#p2579b89960)">
<use href="#m05a0a95577" x="519.663019" y="59.245156" style="fill: #ffffff; stroke: #ffffff; stroke-width: 0.9"/>
</g>
</g>
<g id="line2d_28">
<path d="M 596.890742 136.169122
L 596.890742 59.245156
" clip-path="url(#p2579b89960)" style="fill: none; stroke: #6a6a6a; stroke-width: 1.5; stroke-linecap: round"/>
</g>
<g id="line2d_29">
<path d="M 596.890742 136.169122
L 596.890742 59.245156
" clip-path="url(#p2579b89960)" style="fill: none; stroke: #6a6a6a; stroke-width: 4.2; stroke-linecap: round"/>
</g>
<g id="line2d_30">
<g clip-path="url(#p2579b89960)">
<use href="#m05a0a95577" x="596.890742" y="59.245156" style="fill: #ffffff; stroke: #ffffff; stroke-width: 0.9"/>
</g>
</g>
<g id="line2d_31">
</g>
<g id="line2d_32">
</g>
<g id="line2d_33">
<g clip-path="url(#p2579b89960)">
<use href="#m05a0a95577" x="648.37589" y="59.245156" style="fill: #ffffff; stroke: #ffffff; stroke-width: 0.9"/>
</g>
</g>
<g id="line2d_34">
<path d="M 725.603613 136.169122
L 725.603613 59.245156
" clip-path="url(#p2579b89960)" style="fill: none; stroke: #6a6a6a; stroke-width: 1.5; stroke-linecap: round"/>
</g>
<g id="line2d_35">
<path d="M 725.603613 136.169122
L 725.603613 59.245156
" clip-path="url(#p2579b89960)" style="fill: none; stroke: #6a6a6a; stroke-width: 4.2; stroke-linecap: round"/>
</g>
<g id="line2d_36">
<g clip-path="url(#p2579b89960)">
<use href="#m05a0a95577" x="725.603613" y="59.245156" style="fill: #ffffff; stroke: #ffffff; stroke-width: 0.9"/>
</g>
</g>
<g id="line2d_37">
</g>
<g id="line2d_38">
</g>
<g id="line2d_39">
<g clip-path="url(#p2579b89960)">
<use href="#m05a0a95577" x="777.088762" y="59.245156" style="fill: #ffffff; stroke: #ffffff; stroke-width: 0.9"/>
</g>
</g>
<g id="line2d_40">
</g>
<g id="line2d_41">
</g>
<g id="line2d_42">
<g clip-path="url(#p2579b89960)">
<use href="#m05a0a95577" x="854.316484" y="136.169122" style="fill: #ffffff; stroke: #ffffff; stroke-width: 0.9"/>
</g>
</g>
<g id="line2d_43">
<path d="M 905.801633 136.169122
L 905.801633 59.245156
" clip-path="url(#p2579b89960)" style="fill: none; stroke: #6a6a6a; stroke-width: 1.5; stroke-linecap: round"/>
</g>
<g id="line2d_44">
<path d="M 905.801633 136.169122
L 905.801633 59.245156
" clip-path="url(#p2579b89960)" style="fill: none; stroke: #6a6a6a; stroke-width: 4.2; stroke-linecap: round"/>
</g>
<g id="line2d_45">
<g clip-path="url(#p2579b89960)">
<use href="#m05a0a95577" x="905.801633" y="59.245156" style="fill: #ffffff; stroke: #ffffff; stroke-width: 0.9"/>
</g>
</g>
<g id="patch_5">
<path d="M 43.425395 172.311968
L 43.425395 23.10231
" style="fill: none; stroke: #cccccc; stroke-width: 0.9; stroke-linejoin: miter; stroke-linecap: square"/>
</g>
<g id="patch_6">
<path d="M 944.415494 172.311968
L 944.415494 23.10231
" style="fill: none; stroke: #cccccc; stroke-width: 0.9; stroke-linejoin: miter; stroke-linecap: square"/>
</g>
<g id="patch_7">
<path d="M 43.425395 172.311968
L 944.415494 172.311968
" style="fill: none; stroke: #cccccc; stroke-width: 0.9; stroke-linejoin: miter; stroke-linecap: square"/>
</g>
<g id="patch_8">
<path d="M 43.425395 23.10231
L 944.415494 23.10231
" style="fill: none; stroke: #cccccc; stroke-width: 0.9; stroke-linejoin: miter; stroke-linecap: square"/>
</g>
<g id="text_13">
<text y="19.10" style="font-size:16.380px;font-family:'Liberation Serif',serif;fill:#262626;text-rendering:geometricPrecision"><tspan x="311.29" textLength="5.46" lengthAdjust="spacingAndGlyphs">(</tspan><tspan x="316.75" textLength="10.11" lengthAdjust="spacingAndGlyphs">A</tspan><tspan x="326.86" textLength="5.46" lengthAdjust="spacingAndGlyphs">)</tspan> <tspan x="336.78" textLength="9.59" lengthAdjust="spacingAndGlyphs">S</tspan><tspan x="346.37" textLength="7.84" lengthAdjust="spacingAndGlyphs">c</tspan><tspan x="354.21" textLength="8.43" lengthAdjust="spacingAndGlyphs">o</tspan><tspan x="362.64" textLength="6.69" lengthAdjust="spacingAndGlyphs">r</tspan><tspan x="369.33" textLength="8.29" lengthAdjust="spacingAndGlyphs">e</tspan> <tspan x="382.06" textLength="11.22" lengthAdjust="spacingAndGlyphs">D</tspan><tspan x="393.29" textLength="4.48" lengthAdjust="spacingAndGlyphs">i</tspan><tspan x="397.77" textLength="7.18" lengthAdjust="spacingAndGlyphs">s</tspan><tspan x="404.95" textLength="5.63" lengthAdjust="spacingAndGlyphs">t</tspan><tspan x="410.58" textLength="6.69" lengthAdjust="spacingAndGlyphs">r</tspan><tspan x="417.27" textLength="4.48" lengthAdjust="spacingAndGlyphs">i</tspan><tspan x="421.75" textLength="8.96" lengthAdjust="spacingAndGlyphs">b</tspan><tspan x="430.71" textLength="9.02" lengthAdjust="spacingAndGlyphs">u</tspan><tspan x="439.73" textLength="5.63" lengthAdjust="spacingAndGlyphs">t</tspan><tspan x="445.35" textLength="4.48" lengthAdjust="spacingAndGlyphs">i</tspan><tspan x="449.83" textLength="8.43" lengthAdjust="spacingAndGlyphs">o</tspan><tspan x="458.26" textLength="9.02" lengthAdjust="spacingAndGlyphs">n</tspan> <tspan x="471.72" textLength="10.29" lengthAdjust="spacingAndGlyphs">B</tspan><tspan x="482.01" textLength="8.29" lengthAdjust="spacingAndGlyphs">e</tspan><tspan x="490.30" textLength="5.18" lengthAdjust="spacingAndGlyphs">f</tspan><tspan x="495.48" textLength="8.43" lengthAdjust="spacingAndGlyphs">o</tspan><tspan x="503.91" textLength="6.69" lengthAdjust="spacingAndGlyphs">r</tspan><tspan x="510.60" textLength="8.29" lengthAdjust="spacingAndGlyphs">e</tspan> <tspan x="523.34" textLength="8.35" lengthAdjust="spacingAndGlyphs">a</tspan><tspan x="531.68" textLength="9.02" lengthAdjust="spacingAndGlyphs">n</tspan><tspan x="540.70" textLength="8.96" lengthAdjust="spacingAndGlyphs">d</tspan> <tspan x="554.11" textLength="9.86" lengthAdjust="spacingAndGlyphs">A</tspan><tspan x="563.97" textLength="5.18" lengthAdjust="spacingAndGlyphs">f</tspan><tspan x="569.16" textLength="5.63" lengthAdjust="spacingAndGlyphs">t</tspan><tspan x="574.78" textLength="8.29" lengthAdjust="spacingAndGlyphs">e</tspan><tspan x="583.07" textLength="6.69" lengthAdjust="spacingAndGlyphs">r</tspan> <tspan x="594.21" textLength="9.71" lengthAdjust="spacingAndGlyphs">F</tspan><tspan x="603.92" textLength="4.48" lengthAdjust="spacingAndGlyphs">i</tspan><tspan x="608.40" textLength="9.02" lengthAdjust="spacingAndGlyphs">n</tspan><tspan x="617.42" textLength="8.29" lengthAdjust="spacingAndGlyphs">e</tspan><tspan x="625.70" textLength="4.73" lengthAdjust="spacingAndGlyphs">-</tspan><tspan x="630.43" textLength="5.63" lengthAdjust="spacingAndGlyphs">t</tspan><tspan x="636.06" textLength="9.02" lengthAdjust="spacingAndGlyphs">u</tspan><tspan x="645.08" textLength="9.02" lengthAdjust="spacingAndGlyphs">n</tspan><tspan x="654.09" textLength="4.48" lengthAdjust="spacingAndGlyphs">i</tspan><tspan x="658.57" textLength="9.02" lengthAdjust="spacingAndGlyphs">n</tspan><tspan x="667.59" textLength="8.96" lengthAdjust="spacingAndGlyphs">g</tspan></text>
</g>
<g id="legend_1">
<g id="text_14">
<text y="42.12" style="font-size:14.040px;font-family:'Liberation Serif',serif;fill:#262626;text-rendering:geometricPrecision"><tspan x="103.24" textLength="8.07" lengthAdjust="spacingAndGlyphs">P</tspan><tspan x="111.32" textLength="7.73" lengthAdjust="spacingAndGlyphs">h</tspan><tspan x="119.04" textLength="7.15" lengthAdjust="spacingAndGlyphs">a</tspan><tspan x="126.20" textLength="6.16" lengthAdjust="spacingAndGlyphs">s</tspan><tspan x="132.36" textLength="7.10" lengthAdjust="spacingAndGlyphs">e</tspan></text>
</g>
<g id="patch_9">
<path d="M 53.325395 58.474341
L 75.325395 58.474341
L 75.325395 50.774341
L 53.325395 50.774341
z
" style="fill: #f6bcc2; stroke: #828282; stroke-linejoin: miter"/>
</g>
<g id="text_15">
<text y="58.47" style="font-size:12.870px;font-family:'Liberation Serif',serif;fill:#262626;text-rendering:geometricPrecision"><tspan x="84.13" textLength="8.08" lengthAdjust="spacingAndGlyphs">B</tspan><tspan x="92.21" textLength="6.51" lengthAdjust="spacingAndGlyphs">e</tspan><tspan x="98.72" textLength="4.07" lengthAdjust="spacingAndGlyphs">f</tspan><tspan x="102.79" textLength="6.62" lengthAdjust="spacingAndGlyphs">o</tspan><tspan x="109.41" textLength="5.26" lengthAdjust="spacingAndGlyphs">r</tspan><tspan x="114.67" textLength="6.51" lengthAdjust="spacingAndGlyphs">e</tspan> <tspan x="124.68" textLength="7.63" lengthAdjust="spacingAndGlyphs">F</tspan><tspan x="132.31" textLength="3.52" lengthAdjust="spacingAndGlyphs">i</tspan><tspan x="135.83" textLength="7.08" lengthAdjust="spacingAndGlyphs">n</tspan><tspan x="142.91" textLength="6.51" lengthAdjust="spacingAndGlyphs">e</tspan><tspan x="149.42" textLength="3.72" lengthAdjust="spacingAndGlyphs">-</tspan><tspan x="153.14" textLength="4.42" lengthAdjust="spacingAndGlyphs">t</tspan><tspan x="157.56" textLength="7.08" lengthAdjust="spacingAndGlyphs">u</tspan><tspan x="164.64" textLength="7.08" lengthAdjust="spacingAndGlyphs">n</tspan><tspan x="171.73" textLength="3.52" lengthAdjust="spacingAndGlyphs">i</tspan><tspan x="175.25" textLength="7.08" lengthAdjust="spacingAndGlyphs">n</tspan><tspan x="182.33" textLength="7.04" lengthAdjust="spacingAndGlyphs">g</tspan></text>
</g>
<g id="patch_10">
<path d="M 53.325395 74.776685
L 75.325395 74.776685
L 75.325395 67.076685
L 53.325395 67.076685
z
" style="fill: #c3e0f6; stroke: #828282; stroke-linejoin: miter"/>
</g>
<g id="text_16">
<text y="74.78" style="font-size:12.870px;font-family:'Liberation Serif',serif;fill:#262626;text-rendering:geometricPrecision"><tspan x="84.13" textLength="7.75" lengthAdjust="spacingAndGlyphs">A</tspan><tspan x="91.88" textLength="4.07" lengthAdjust="spacingAndGlyphs">f</tspan><tspan x="95.95" textLength="4.42" lengthAdjust="spacingAndGlyphs">t</tspan><tspan x="100.37" textLength="6.51" lengthAdjust="spacingAndGlyphs">e</tspan><tspan x="106.88" textLength="5.26" lengthAdjust="spacingAndGlyphs">r</tspan> <tspan x="115.63" textLength="7.63" lengthAdjust="spacingAndGlyphs">F</tspan><tspan x="123.26" textLength="3.52" lengthAdjust="spacingAndGlyphs">i</tspan><tspan x="126.78" textLength="7.08" lengthAdjust="spacingAndGlyphs">n</tspan><tspan x="133.87" textLength="6.51" lengthAdjust="spacingAndGlyphs">e</tspan><tspan x="140.38" textLength="3.72" lengthAdjust="spacingAndGlyphs">-</tspan><tspan x="144.09" textLength="4.42" lengthAdjust="spacingAndGlyphs">t</tspan><tspan x="148.51" textLength="7.08" lengthAdjust="spacingAndGlyphs">u</tspan><tspan x="155.60" textLength="7.08" lengthAdjust="spacingAndGlyphs">n</tspan><tspan x="162.68" textLength="3.52" lengthAdjust="spacingAndGlyphs">i</tspan><tspan x="166.20" textLength="7.08" lengthAdjust="spacingAndGlyphs">n</tspan><tspan x="173.29" textLength="7.04" lengthAdjust="spacingAndGlyphs">g</tspan></text>
</g>
</g>
</g>
<g id="axes_2">
<g id="patch_11">
<path d="M 43.425395 408.893521
L 468.473163 408.893521
L 468.473163 260.46552
L 43.425395 260.46552
z
" style="fill: #ffffff"/>
</g>
<g id="matplotlib.axis_3">
<g id="xtick_8">
<g id="text_17">
<text y="420.75" style="font-size:12.870px;font-family:'Liberation Serif',serif;fill:#262626;text-rendering:geometricPrecision"><tspan x="131.16" textLength="8.08" lengthAdjust="spacingAndGlyphs">B</tspan><tspan x="139.24" textLength="6.51" lengthAdjust="spacingAndGlyphs">e</tspan><tspan x="145.75" textLength="4.07" lengthAdjust="spacingAndGlyphs">f</tspan><tspan x="149.82" textLength="6.62" lengthAdjust="spacingAndGlyphs">o</tspan><tspan x="156.45" textLength="5.26" lengthAdjust="spacingAndGlyphs">r</tspan><tspan x="161.71" textLength="6.51" lengthAdjust="spacingAndGlyphs">e</tspan></text>
</g>
</g>
<g id="xtick_9">
<g id="text_18">
<text y="420.75" style="font-size:12.870px;font-family:'Liberation Serif',serif;fill:#262626;text-rendering:geometricPrecision"><tspan x="348.21" textLength="7.75" lengthAdjust="spacingAndGlyphs">A</tspan><tspan x="355.96" textLength="4.07" lengthAdjust="spacingAndGlyphs">f</tspan><tspan x="360.03" textLength="4.42" lengthAdjust="spacingAndGlyphs">t</tspan><tspan x="364.45" textLength="6.51" lengthAdjust="spacingAndGlyphs">e</tspan><tspan x="370.96" textLength="5.26" lengthAdjust="spacingAndGlyphs">r</tspan></text>
</g>
</g>
<g id="text_19">
<text y="436.16" style="font-size:14.040px;font-family:'Liberation Serif',serif;fill:#262626;text-rendering:geometricPrecision"><tspan x="237.84" textLength="8.07" lengthAdjust="spacingAndGlyphs">P</tspan><tspan x="245.92" textLength="7.73" lengthAdjust="spacingAndGlyphs">h</tspan><tspan x="253.64" textLength="7.15" lengthAdjust="spacingAndGlyphs">a</tspan><tspan x="260.80" textLength="6.16" lengthAdjust="spacingAndGlyphs">s</tspan><tspan x="266.96" textLength="7.10" lengthAdjust="spacingAndGlyphs">e</tspan></text>
</g>
</g>
<g id="matplotlib.axis_4">
<g id="ytick_4">
<g id="line2d_46">
<path d="M 43.425395 408.893521
L 468.473163 408.893521
" clip-path="url(#p837a4c3577)" style="fill: none; stroke: #cccccc; stroke-width: 0.6; stroke-linecap: round"/>
</g>
<g id="text_20">
<text y="413.07" style="font-size:12.870px;font-family:'Liberation Serif',serif;fill:#262626;text-rendering:geometricPrecision"><tspan x="34.43" textLength="7.00" lengthAdjust="spacingAndGlyphs">0</tspan></text>
</g>
</g>
<g id="ytick_5">
<g id="line2d_47">
<path d="M 43.425395 379.070736
L 468.473163 379.070736
" clip-path="url(#p837a4c3577)" style="fill: none; stroke: #cccccc; stroke-width: 0.6; stroke-linecap: round"/>
</g>
<g id="text_21">
<text y="383.25" style="font-size:12.870px;font-family:'Liberation Serif',serif;fill:#262626;text-rendering:geometricPrecision"><tspan x="27.43" textLength="7.00" lengthAdjust="spacingAndGlyphs">5</tspan><tspan x="34.43" textLength="7.00" lengthAdjust="spacingAndGlyphs">0</tspan></text>
</g>
</g>
<g id="ytick_6">
<g id="line2d_48">
<path d="M 43.425395 349.247951
L 468.473163 349.247951
" clip-path="url(#p837a4c3577)" style="fill: none; stroke: #cccccc; stroke-width: 0.6; stroke-linecap: round"/>
</g>
<g id="text_22">
<text y="353.43" style="font-size:12.870px;font-family:'Liberation Serif',serif;fill:#262626;text-rendering:geometricPrecision"><tspan x="20.43" textLength="7.00" lengthAdjust="spacingAndGlyphs">1</tspan><tspan x="27.43" textLength="7.00" lengthAdjust="spacingAndGlyphs">0</tspan><tspan x="34.43" textLength="7.00" lengthAdjust="spacingAndGlyphs">0</tspan></text>
</g>
</g>
<g id="ytick_7">
<g id="line2d_49">
<path d="M 43.425395 319.425166
L 468.473163 319.425166
" clip-path="url(#p837a4c3577)" style="fill: none; stroke: #cccccc; stroke-width: 0.6; stroke-linecap: round"/>
</g>
<g id="text_23">
<text y="323.60" style="font-size:12.870px;font-family:'Liberation Serif',serif;fill:#262626;text-rendering:geometricPrecision"><tspan x="20.43" textLength="7.00" lengthAdjust="spacingAndGlyphs">1</tspan><tspan x="27.43" textLength="7.00" lengthAdjust="spacingAndGlyphs">5</tspan><tspan x="34.43" textLength="7.00" lengthAdjust="spacingAndGlyphs">0</tspan></text>
</g>
</g>
<g id="ytick_8">
<g id="line2d_50">
<path d="M 43.425395 289.602381
L 468.473163 289.602381
" clip-path="url(#p837a4c3577)" style="fill: none; stroke: #cccccc; stroke-width: 0.6; stroke-linecap: round"/>
</g>
<g id="text_24">
<text y="293.78" style="font-size:12.870px;font-family:'Liberation Serif',serif;fill:#262626;text-rendering:geometricPrecision"><tspan x="20.43" textLength="7.00" lengthAdjust="spacingAndGlyphs">2</tspan><tspan x="27.43" textLength="7.00" lengthAdjust="spacingAndGlyphs">0</tspan><tspan x="34.43" textLength="7.00" lengthAdjust="spacingAndGlyphs">0</tspan></text>
</g>
</g>
<g id="text_25">
<text y="334.68" transform="rotate(-90 13.93352 334.679521)" style="font-size:14.040px;font-family:'Liberation Serif',serif;fill:#262626;text-rendering:geometricPrecision"><tspan x="-22.40" textLength="11.52" lengthAdjust="spacingAndGlyphs">W</tspan><tspan x="-10.88" textLength="7.22" lengthAdjust="spacingAndGlyphs">o</tspan><tspan x="-3.65" textLength="5.74" lengthAdjust="spacingAndGlyphs">r</tspan><tspan x="2.08" textLength="7.68" lengthAdjust="spacingAndGlyphs">d</tspan> <tspan x="13.58" textLength="9.18" lengthAdjust="spacingAndGlyphs">C</tspan><tspan x="22.76" textLength="7.22" lengthAdjust="spacingAndGlyphs">o</tspan><tspan x="29.99" textLength="7.73" lengthAdjust="spacingAndGlyphs">u</tspan><tspan x="37.71" textLength="7.73" lengthAdjust="spacingAndGlyphs">n</tspan><tspan x="45.44" textLength="4.82" lengthAdjust="spacingAndGlyphs">t</tspan></text>
</g>
</g>
<g id="patch_12">
<path d="M 64.677784 408.893521
L 234.696891 408.893521
L 234.696891 267.53352
L 64.677784 267.53352
z
" clip-path="url(#p837a4c3577)" style="fill: #f6bcc2; stroke: #ffffff; stroke-linejoin: miter"/>
</g>
<g id="patch_13">
<path d="M 277.201668 408.893521
L 447.220775 408.893521
L 447.220775 315.965723
L 277.201668 315.965723
z
" clip-path="url(#p837a4c3577)" style="fill: #c3e0f6; stroke: #ffffff; stroke-linejoin: miter"/>
</g>
<g id="line2d_51">
<path clip-path="url(#p837a4c3577)" style="fill: none; stroke: #424242; stroke-width: 2.25; stroke-linecap: round"/>
</g>
<g id="line2d_52">
<path clip-path="url(#p837a4c3577)" style="fill: none; stroke: #424242; stroke-width: 2.25; stroke-linecap: round"/>
</g>
<g id="patch_14">
<path d="M 43.425395 408.893521
L 43.425395 260.46552
" style="fill: none; stroke: #cccccc; stroke-width: 0.9; stroke-linejoin: miter; stroke-linecap: square"/>
</g>
<g id="patch_15">
<path d="M 468.473163 408.893521
L 468.473163 260.46552
" style="fill: none; stroke: #cccccc; stroke-width: 0.9; stroke-linejoin: miter; stroke-linecap: square"/>
</g>
<g id="patch_16">
<path d="M 43.425395 408.893521
L 468.473163 408.893521
" style="fill: none; stroke: #cccccc; stroke-width: 0.9; stroke-linejoin: miter; stroke-linecap: square"/>
</g>
<g id="patch_17">
<path d="M 43.425395 260.46552
L 468.473163 260.46552
" style="fill: none; stroke: #cccccc; stroke-width: 0.9; stroke-linejoin: miter; stroke-linecap: square"/>
</g>
<g id="text_26">
<text y="256.47" style="font-size:16.380px;font-family:'Liberation Serif',serif;fill:#262626;text-rendering:geometricPrecision"><tspan x="150.61" textLength="5.46" lengthAdjust="spacingAndGlyphs">(</tspan><tspan x="156.07" textLength="10.29" lengthAdjust="spacingAndGlyphs">B</tspan><tspan x="166.36" textLength="5.46" lengthAdjust="spacingAndGlyphs">)</tspan> <tspan x="176.27" textLength="9.54" lengthAdjust="spacingAndGlyphs">A</tspan><tspan x="185.82" textLength="7.91" lengthAdjust="spacingAndGlyphs">v</tspan><tspan x="193.73" textLength="8.29" lengthAdjust="spacingAndGlyphs">e</tspan><tspan x="202.01" textLength="6.69" lengthAdjust="spacingAndGlyphs">r</tspan><tspan x="208.70" textLength="8.35" lengthAdjust="spacingAndGlyphs">a</tspan><tspan x="217.05" textLength="8.96" lengthAdjust="spacingAndGlyphs">g</tspan><tspan x="226.01" textLength="8.29" lengthAdjust="spacingAndGlyphs">e</tspan> <tspan x="238.75" textLength="10.54" lengthAdjust="spacingAndGlyphs">R</tspan><tspan x="249.29" textLength="8.29" lengthAdjust="spacingAndGlyphs">e</tspan><tspan x="257.57" textLength="7.18" lengthAdjust="spacingAndGlyphs">s</tspan><tspan x="264.76" textLength="8.96" lengthAdjust="spacingAndGlyphs">p</tspan><tspan x="273.72" textLength="8.43" lengthAdjust="spacingAndGlyphs">o</tspan><tspan x="282.15" textLength="9.02" lengthAdjust="spacingAndGlyphs">n</tspan><tspan x="291.16" textLength="7.18" lengthAdjust="spacingAndGlyphs">s</tspan><tspan x="298.35" textLength="8.29" lengthAdjust="spacingAndGlyphs">e</tspan> <tspan x="311.08" textLength="9.30" lengthAdjust="spacingAndGlyphs">L</tspan><tspan x="320.38" textLength="8.29" lengthAdjust="spacingAndGlyphs">e</tspan><tspan x="328.67" textLength="9.02" lengthAdjust="spacingAndGlyphs">n</tspan><tspan x="337.68" textLength="8.96" lengthAdjust="spacingAndGlyphs">g</tspan><tspan x="346.65" textLength="5.63" lengthAdjust="spacingAndGlyphs">t</tspan><tspan x="352.27" textLength="9.02" lengthAdjust="spacingAndGlyphs">h</tspan></text>
</g>
</g>
<g id="axes_3">
<g id="patch_18">
<path d="M 518.151815 408.893521
L 944.415494 408.893521
L 944.415494 260.46552
L 518.151815 260.46552
z
" style="fill: #ffffff"/>
</g>
<g id="matplotlib.axis_5">
<g id="xtick_10">
<g id="text_27">
<text y="420.75" style="font-size:12.870px;font-family:'Liberation Serif',serif;fill:#262626;text-rendering:geometricPrecision"><tspan x="606.19" textLength="8.08" lengthAdjust="spacingAndGlyphs">B</tspan><tspan x="614.27" textLength="6.51" lengthAdjust="spacingAndGlyphs">e</tspan><tspan x="620.78" textLength="4.07" lengthAdjust="spacingAndGlyphs">f</tspan><tspan x="624.85" textLength="6.62" lengthAdjust="spacingAndGlyphs">o</tspan><tspan x="631.48" textLength="5.26" lengthAdjust="spacingAndGlyphs">r</tspan><tspan x="636.74" textLength="6.51" lengthAdjust="spacingAndGlyphs">e</tspan></text>
</g>
</g>
<g id="xtick_11">
<g id="text_28">
<text y="420.75" style="font-size:12.870px;font-family:'Liberation Serif',serif;fill:#262626;text-rendering:geometricPrecision"><tspan x="823.84" textLength="7.75" lengthAdjust="spacingAndGlyphs">A</tspan><tspan x="831.59" textLength="4.07" lengthAdjust="spacingAndGlyphs">f</tspan><tspan x="835.67" textLength="4.42" lengthAdjust="spacingAndGlyphs">t</tspan><tspan x="840.09" textLength="6.51" lengthAdjust="spacingAndGlyphs">e</tspan><tspan x="846.60" textLength="5.26" lengthAdjust="spacingAndGlyphs">r</tspan></text>
</g>
</g>
<g id="text_29">
<text y="436.16" style="font-size:14.040px;font-family:'Liberation Serif',serif;fill:#262626;text-rendering:geometricPrecision"><tspan x="713.18" textLength="8.07" lengthAdjust="spacingAndGlyphs">P</tspan><tspan x="721.25" textLength="7.73" lengthAdjust="spacingAndGlyphs">h</tspan><tspan x="728.98" textLength="7.15" lengthAdjust="spacingAndGlyphs">a</tspan><tspan x="736.13" textLength="6.16" lengthAdjust="spacingAndGlyphs">s</tspan><tspan x="742.29" textLength="7.10" lengthAdjust="spacingAndGlyphs">e</tspan></text>
</g>
</g>
<g id="matplotlib.axis_6">
<g id="ytick_9">
<g id="line2d_53">
<path d="M 518.151815 408.893521
L 944.415494 408.893521
" clip-path="url(#p6758a894b1)" style="fill: none; stroke: #cccccc; stroke-width: 0.6; stroke-linecap: round"/>
</g>
<g id="text_30">
<text y="413.07" style="font-size:12.870px;font-family:'Liberation Serif',serif;fill:#262626;text-rendering:geometricPrecision"><tspan x="509.15" textLength="7.00" lengthAdjust="spacingAndGlyphs">0</tspan></text>
</g>
</g>
<g id="ytick_10">
<g id="line2d_54">
<path d="M 518.151815 373.518145
L 944.415494 373.518145
" clip-path="url(#p6758a894b1)" style="fill: none; stroke: #cccccc; stroke-width: 0.6; stroke-linecap: round"/>
</g>
<g id="text_31">
<text y="377.70" style="font-size:12.870px;font-family:'Liberation Serif',serif;fill:#262626;text-rendering:geometricPrecision"><tspan x="502.15" textLength="7.00" lengthAdjust="spacingAndGlyphs">5</tspan><tspan x="509.15" textLength="7.00" lengthAdjust="spacingAndGlyphs">0</tspan></text>
</g>
</g>
<g id="ytick_11">
<g id="line2d_55">
<path d="M 518.151815 338.14277
L 944.415494 338.14277
" clip-path="url(#p6758a894b1)" style="fill: none; stroke: #cccccc; stroke-width: 0.6; stroke-linecap: round"/>
</g>
<g id="text_32">
<text y="342.32" style="font-size:12.870px;font-family:'Liberation Serif',serif;fill:#262626;text-rendering:geometricPrecision"><tspan x="495.16" textLength="7.00" lengthAdjust="spacingAndGlyphs">1</tspan><tspan x="502.15" textLength="7.00" lengthAdjust="spacingAndGlyphs">0</tspan><tspan x="509.15" textLength="7.00" lengthAdjust="spacingAndGlyphs">0</tspan></text>
</g>
</g>
<g id="ytick_12">
<g id="line2d_56">
<path d="M 518.151815 302.767394
L 944.415494 302.767394
" clip-path="url(#p6758a894b1)" style="fill: none; stroke: #cccccc; stroke-width: 0.6; stroke-linecap: round"/>
</g>
<g id="text_33">
<text y="306.95" style="font-size:12.870px;font-family:'Liberation Serif',serif;fill:#262626;text-rendering:geometricPrecision"><tspan x="495.16" textLength="7.00" lengthAdjust="spacingAndGlyphs">1</tspan><tspan x="502.15" textLength="7.00" lengthAdjust="spacingAndGlyphs">5</tspan><tspan x="509.15" textLength="7.00" lengthAdjust="spacingAndGlyphs">0</tspan></text>
</g>
</g>
<g id="ytick_13">
<g id="line2d_57">
<path d="M 518.151815 267.392019
L 944.415494 267.392019
" clip-path="url(#p6758a894b1)" style="fill: none; stroke: #cccccc; stroke-width: 0.6; stroke-linecap: round"/>
</g>
<g id="text_34">
<text y="271.57" style="font-size:12.870px;font-family:'Liberation Serif',serif;fill:#262626;text-rendering:geometricPrecision"><tspan x="495.16" textLength="7.00" lengthAdjust="spacingAndGlyphs">2</tspan><tspan x="502.15" textLength="7.00" lengthAdjust="spacingAndGlyphs">0</tspan><tspan x="509.15" textLength="7.00" lengthAdjust="spacingAndGlyphs">0</tspan></text>
</g>
</g>
<g id="text_35">
<text y="334.68" transform="rotate(-90 488.65994 334.679521)" style="font-size:14.040px;font-family:'Liberation Serif',serif;fill:#262626;text-rendering:geometricPrecision"><tspan x="428.33" textLength="10.11" lengthAdjust="spacingAndGlyphs">U</tspan><tspan x="438.44" textLength="7.73" lengthAdjust="spacingAndGlyphs">n</tspan><tspan x="446.17" textLength="3.84" lengthAdjust="spacingAndGlyphs">i</tspan><tspan x="450.01" textLength="7.68" lengthAdjust="spacingAndGlyphs">q</tspan><tspan x="457.69" textLength="7.73" lengthAdjust="spacingAndGlyphs">u</tspan><tspan x="465.42" textLength="7.10" lengthAdjust="spacingAndGlyphs">e</tspan> <tspan x="476.33" textLength="11.52" lengthAdjust="spacingAndGlyphs">W</tspan><tspan x="487.85" textLength="7.22" lengthAdjust="spacingAndGlyphs">o</tspan><tspan x="495.08" textLength="5.74" lengthAdjust="spacingAndGlyphs">r</tspan><tspan x="500.81" textLength="7.68" lengthAdjust="spacingAndGlyphs">d</tspan> <tspan x="512.31" textLength="9.18" lengthAdjust="spacingAndGlyphs">C</tspan><tspan x="521.49" textLength="7.22" lengthAdjust="spacingAndGlyphs">o</tspan><tspan x="528.71" textLength="7.73" lengthAdjust="spacingAndGlyphs">u</tspan><tspan x="536.44" textLength="7.73" lengthAdjust="spacingAndGlyphs">n</tspan><tspan x="544.17" textLength="4.82" lengthAdjust="spacingAndGlyphs">t</tspan></text>
</g>
</g>
<g id="patch_19">
<path d="M 539.464999 408.893521
L 709.970471 408.893521
L 709.970471 267.53352
L 539.464999 267.53352
z
" clip-path="url(#p6758a894b1)" style="fill: #f6bcc2; stroke: #ffffff; stroke-linejoin: miter"/>
</g>
<g id="patch_20">
<path d="M 752.596839 408.893521
L 923.10231 408.893521
L 923.10231 319.959827
L 752.596839 319.959827
z
" clip-path="url(#p6758a894b1)" style="fill: #c3e0f6; stroke: #ffffff; stroke-linejoin: miter"/>
</g>
<g id="line2d_58">
<path clip-path="url(#p6758a894b1)" style="fill: none; stroke: #424242; stroke-width: 2.25; stroke-linecap: round"/>
</g>
<g id="line2d_59">
<path clip-path="url(#p6758a894b1)" style="fill: none; stroke: #424242; stroke-width: 2.25; stroke-linecap: round"/>
</g>
<g id="patch_21">
<path d="M 518.151815 408.893521
L 518.151815 260.46552
" style="fill: none; stroke: #cccccc; stroke-width: 0.9; stroke-linejoin: miter; stroke-linecap: square"/>
</g>
<g id="patch_22">
<path d="M 944.415494 408.893521
L 944.415494 260.46552
" style="fill: none; stroke: #cccccc; stroke-width: 0.9; stroke-linejoin: miter; stroke-linecap: square"/>
</g>
<g id="patch_23">
<path d="M 518.151815 408.893521
L 944.415494 408.893521
" style="fill: none; stroke: #cccccc; stroke-width: 0.9; stroke-linejoin: miter; stroke-linecap: square"/>
</g>
<g id="patch_24">
<path d="M 518.151815 260.46552
L 944.415494 260.46552
" style="fill: none; stroke: #cccccc; stroke-width: 0.9; stroke-linejoin: miter; stroke-linecap: square"/>
</g>
<g id="text_36">
<text y="256.47" style="font-size:16.380px;font-family:'Liberation Serif',serif;fill:#262626;text-rendering:geometricPrecision"><tspan x="586.28" textLength="5.46" lengthAdjust="spacingAndGlyphs">(</tspan><tspan x="591.74" textLength="10.71" lengthAdjust="spacingAndGlyphs">C</tspan><tspan x="602.46" textLength="5.46" lengthAdjust="spacingAndGlyphs">)</tspan> <tspan x="612.37" textLength="9.54" lengthAdjust="spacingAndGlyphs">A</tspan><tspan x="621.91" textLength="7.91" lengthAdjust="spacingAndGlyphs">v</tspan><tspan x="629.82" textLength="8.29" lengthAdjust="spacingAndGlyphs">e</tspan><tspan x="638.11" textLength="6.69" lengthAdjust="spacingAndGlyphs">r</tspan><tspan x="644.80" textLength="8.35" lengthAdjust="spacingAndGlyphs">a</tspan><tspan x="653.15" textLength="8.96" lengthAdjust="spacingAndGlyphs">g</tspan><tspan x="662.11" textLength="8.29" lengthAdjust="spacingAndGlyphs">e</tspan> <tspan x="674.84" textLength="11.80" lengthAdjust="spacingAndGlyphs">U</tspan><tspan x="686.64" textLength="9.02" lengthAdjust="spacingAndGlyphs">n</tspan><tspan x="695.66" textLength="4.48" lengthAdjust="spacingAndGlyphs">i</tspan><tspan x="700.14" textLength="8.96" lengthAdjust="spacingAndGlyphs">q</tspan><tspan x="709.10" textLength="9.02" lengthAdjust="spacingAndGlyphs">u</tspan><tspan x="718.11" textLength="8.29" lengthAdjust="spacingAndGlyphs">e</tspan> <tspan x="730.85" textLength="13.44" lengthAdjust="spacingAndGlyphs">W</tspan><tspan x="744.29" textLength="8.43" lengthAdjust="spacingAndGlyphs">o</tspan><tspan x="752.72" textLength="6.69" lengthAdjust="spacingAndGlyphs">r</tspan><tspan x="759.41" textLength="8.96" lengthAdjust="spacingAndGlyphs">d</tspan><tspan x="768.37" textLength="7.18" lengthAdjust="spacingAndGlyphs">s</tspan> <tspan x="780.01" textLength="8.96" lengthAdjust="spacingAndGlyphs">p</tspan><tspan x="788.97" textLength="8.29" lengthAdjust="spacingAndGlyphs">e</tspan><tspan x="797.25" textLength="6.69" lengthAdjust="spacingAndGlyphs">r</tspan> <tspan x="808.40" textLength="10.54" lengthAdjust="spacingAndGlyphs">R</tspan><tspan x="818.94" textLength="8.29" lengthAdjust="spacingAndGlyphs">e</tspan><tspan x="827.22" textLength="7.18" lengthAdjust="spacingAndGlyphs">s</tspan><tspan x="834.41" textLength="8.96" lengthAdjust="spacingAndGlyphs">p</tspan><tspan x="843.37" textLength="8.43" lengthAdjust="spacingAndGlyphs">o</tspan><tspan x="851.80" textLength="9.02" lengthAdjust="spacingAndGlyphs">n</tspan><tspan x="860.81" textLength="7.18" lengthAdjust="spacingAndGlyphs">s</tspan><tspan x="868.00" textLength="8.29" lengthAdjust="spacingAndGlyphs">e</tspan></text>
</g>
</g>
<g id="axes_4">
<g id="patch_25">
<path d="M 43.425395 644.780268
L 944.415494 644.780268
L 944.415494 495.918013
L 43.425395 495.918013
z
" style="fill: #ffffff"/>
</g>
<g id="matplotlib.axis_7">
<g id="xtick_12">
<g id="text_37">
<text y="0.00" transform="translate(69.628669 690.726009) rotate(-45)" style="font-size:12.870px;font-family:'Liberation Serif',serif;fill:#262626;text-rendering:geometricPrecision"><tspan x="0.00" textLength="7.40" lengthAdjust="spacingAndGlyphs">P</tspan><tspan x="7.40" textLength="5.26" lengthAdjust="spacingAndGlyphs">r</tspan><tspan x="12.66" textLength="6.62" lengthAdjust="spacingAndGlyphs">o</tspan><tspan x="19.28" textLength="10.43" lengthAdjust="spacingAndGlyphs">m</tspan><tspan x="29.71" textLength="7.04" lengthAdjust="spacingAndGlyphs">p</tspan><tspan x="36.75" textLength="4.42" lengthAdjust="spacingAndGlyphs">t</tspan> <tspan x="44.67" textLength="7.00" lengthAdjust="spacingAndGlyphs">1</tspan></text>
</g>
</g>
<g id="xtick_13">
<g id="text_38">
<text y="0.00" transform="translate(198.34154 690.726009) rotate(-45)" style="font-size:12.870px;font-family:'Liberation Serif',serif;fill:#262626;text-rendering:geometricPrecision"><tspan x="0.00" textLength="7.40" lengthAdjust="spacingAndGlyphs">P</tspan><tspan x="7.40" textLength="5.26" lengthAdjust="spacingAndGlyphs">r</tspan><tspan x="12.66" textLength="6.62" lengthAdjust="spacingAndGlyphs">o</tspan><tspan x="19.28" textLength="10.43" lengthAdjust="spacingAndGlyphs">m</tspan><tspan x="29.71" textLength="7.04" lengthAdjust="spacingAndGlyphs">p</tspan><tspan x="36.75" textLength="4.42" lengthAdjust="spacingAndGlyphs">t</tspan> <tspan x="44.67" textLength="7.00" lengthAdjust="spacingAndGlyphs">2</tspan></text>
</g>
</g>
<g id="xtick_14">
<g id="text_39">
<text y="0.00" transform="translate(327.054412 690.726009) rotate(-45)" style="font-size:12.870px;font-family:'Liberation Serif',serif;fill:#262626;text-rendering:geometricPrecision"><tspan x="0.00" textLength="7.40" lengthAdjust="spacingAndGlyphs">P</tspan><tspan x="7.40" textLength="5.26" lengthAdjust="spacingAndGlyphs">r</tspan><tspan x="12.66" textLength="6.62" lengthAdjust="spacingAndGlyphs">o</tspan><tspan x="19.28" textLength="10.43" lengthAdjust="spacingAndGlyphs">m</tspan><tspan x="29.71" textLength="7.04" lengthAdjust="spacingAndGlyphs">p</tspan><tspan x="36.75" textLength="4.42" lengthAdjust="spacingAndGlyphs">t</tspan> <tspan x="44.67" textLength="7.00" lengthAdjust="spacingAndGlyphs">3</tspan></text>
</g>
</g>
<g id="xtick_15">
<g id="text_40">
<text y="0.00" transform="translate(455.767283 690.726009) rotate(-45)" style="font-size:12.870px;font-family:'Liberation Serif',serif;fill:#262626;text-rendering:geometricPrecision"><tspan x="0.00" textLength="7.40" lengthAdjust="spacingAndGlyphs">P</tspan><tspan x="7.40" textLength="5.26" lengthAdjust="spacingAndGlyphs">r</tspan><tspan x="12.66" textLength="6.62" lengthAdjust="spacingAndGlyphs">o</tspan><tspan x="19.28" textLength="10.43" lengthAdjust="spacingAndGlyphs">m</tspan><tspan x="29.71" textLength="7.04" lengthAdjust="spacingAndGlyphs">p</tspan><tspan x="36.75" textLength="4.42" lengthAdjust="spacingAndGlyphs">t</tspan> <tspan x="44.67" textLength="7.00" lengthAdjust="spacingAndGlyphs">4</tspan></text>
</g>
</g>
<g id="xtick_16">
<g id="text_41">
<text y="0.00" transform="translate(584.480154 690.726009) rotate(-45)" style="font-size:12.870px;font-family:'Liberation Serif',serif;fill:#262626;text-rendering:geometricPrecision"><tspan x="0.00" textLength="7.40" lengthAdjust="spacingAndGlyphs">P</tspan><tspan x="7.40" textLength="5.26" lengthAdjust="spacingAndGlyphs">r</tspan><tspan x="12.66" textLength="6.62" lengthAdjust="spacingAndGlyphs">o</tspan><tspan x="19.28" textLength="10.43" lengthAdjust="spacingAndGlyphs">m</tspan><tspan x="29.71" textLength="7.04" lengthAdjust="spacingAndGlyphs">p</tspan><tspan x="36.75" textLength="4.42" lengthAdjust="spacingAndGlyphs">t</tspan> <tspan x="44.67" textLength="7.00" lengthAdjust="spacingAndGlyphs">5</tspan></text>
</g>
</g>
<g id="xtick_17">
<g id="text_42">
<text y="0.00" transform="translate(713.193026 690.726009) rotate(-45)" style="font-size:12.870px;font-family:'Liberation Serif',serif;fill:#262626;text-rendering:geometricPrecision"><tspan x="0.00" textLength="7.40" lengthAdjust="spacingAndGlyphs">P</tspan><tspan x="7.40" textLength="5.26" lengthAdjust="spacingAndGlyphs">r</tspan><tspan x="12.66" textLength="6.62" lengthAdjust="spacingAndGlyphs">o</tspan><tspan x="19.28" textLength="10.43" lengthAdjust="spacingAndGlyphs">m</tspan><tspan x="29.71" textLength="7.04" lengthAdjust="spacingAndGlyphs">p</tspan><tspan x="36.75" textLength="4.42" lengthAdjust="spacingAndGlyphs">t</tspan> <tspan x="44.67" textLength="7.00" lengthAdjust="spacingAndGlyphs">6</tspan></text>
</g>
</g>
<g id="xtick_18">
<g id="text_43">
<text y="0.00" transform="translate(841.905897 690.726009) rotate(-45)" style="font-size:12.870px;font-family:'Liberation Serif',serif;fill:#262626;text-rendering:geometricPrecision"><tspan x="0.00" textLength="7.40" lengthAdjust="spacingAndGlyphs">P</tspan><tspan x="7.40" textLength="5.26" lengthAdjust="spacingAndGlyphs">r</tspan><tspan x="12.66" textLength="6.62" lengthAdjust="spacingAndGlyphs">o</tspan><tspan x="19.28" textLength="10.43" lengthAdjust="spacingAndGlyphs">m</tspan><tspan x="29.71" textLength="7.04" lengthAdjust="spacingAndGlyphs">p</tspan><tspan x="36.75" textLength="4.42" lengthAdjust="spacingAndGlyphs">t</tspan> <tspan x="44.67" textLength="7.00" lengthAdjust="spacingAndGlyphs">7</tspan></text>
</g>
</g>
<g id="text_44">
<text y="705.46" style="font-size:14.040px;font-family:'Liberation Serif',serif;fill:#262626;text-rendering:geometricPrecision"><tspan x="471.46" textLength="8.07" lengthAdjust="spacingAndGlyphs">P</tspan><tspan x="479.54" textLength="5.74" lengthAdjust="spacingAndGlyphs">r</tspan><tspan x="485.27" textLength="7.22" lengthAdjust="spacingAndGlyphs">o</tspan><tspan x="492.50" textLength="11.38" lengthAdjust="spacingAndGlyphs">m</tspan><tspan x="503.88" textLength="7.68" lengthAdjust="spacingAndGlyphs">p</tspan><tspan x="511.56" textLength="4.82" lengthAdjust="spacingAndGlyphs">t</tspan></text>
</g>
</g>
<g id="matplotlib.axis_8">
<g id="ytick_14">
<g id="line2d_60">
<path d="M 43.425395 644.780268
L 944.415494 644.780268
" clip-path="url(#p106c75819a)" style="fill: none; stroke: #cccccc; stroke-width: 0.6; stroke-linecap: round"/>
</g>
<g id="text_45">
<text y="648.96" style="font-size:12.870px;font-family:'Liberation Serif',serif;fill:#262626;text-rendering:geometricPrecision"><tspan x="23.93" textLength="7.00" lengthAdjust="spacingAndGlyphs">0</tspan><tspan x="30.93" textLength="3.50" lengthAdjust="spacingAndGlyphs">.</tspan><tspan x="34.43" textLength="7.00" lengthAdjust="spacingAndGlyphs">0</tspan></text>
</g>
</g>
<g id="ytick_15">
<g id="line2d_61">
<path d="M 43.425395 609.774446
L 944.415494 609.774446
" clip-path="url(#p106c75819a)" style="fill: none; stroke: #cccccc; stroke-width: 0.6; stroke-linecap: round"/>
</g>
<g id="text_46">
<text y="613.95" style="font-size:12.870px;font-family:'Liberation Serif',serif;fill:#262626;text-rendering:geometricPrecision"><tspan x="23.93" textLength="7.00" lengthAdjust="spacingAndGlyphs">0</tspan><tspan x="30.93" textLength="3.50" lengthAdjust="spacingAndGlyphs">.</tspan><tspan x="34.43" textLength="7.00" lengthAdjust="spacingAndGlyphs">2</tspan></text>
</g>
</g>
<g id="ytick_16">
<g id="line2d_62">
<path d="M 43.425395 574.768625
L 944.415494 574.768625
" clip-path="url(#p106c75819a)" style="fill: none; stroke: #cccccc; stroke-width: 0.6; stroke-linecap: round"/>
</g>
<g id="text_47">
<text y="578.95" style="font-size:12.870px;font-family:'Liberation Serif',serif;fill:#262626;text-rendering:geometricPrecision"><tspan x="23.93" textLength="7.00" lengthAdjust="spacingAndGlyphs">0</tspan><tspan x="30.93" textLength="3.50" lengthAdjust="spacingAndGlyphs">.</tspan><tspan x="34.43" textLength="7.00" lengthAdjust="spacingAndGlyphs">4</tspan></text>
</g>
</g>
<g id="ytick_17">
<g id="line2d_63">
<path d="M 43.425395 539.762804
L 944.415494 539.762804
" clip-path="url(#p106c75819a)" style="fill: none; stroke: #cccccc; stroke-width: 0.6; stroke-linecap: round"/>
</g>
<g id="text_48">
<text y="543.94" style="font-size:12.870px;font-family:'Liberation Serif',serif;fill:#262626;text-rendering:geometricPrecision"><tspan x="23.93" textLength="7.00" lengthAdjust="spacingAndGlyphs">0</tspan><tspan x="30.93" textLength="3.50" lengthAdjust="spacingAndGlyphs">.</tspan><tspan x="34.43" textLength="7.00" lengthAdjust="spacingAndGlyphs">6</tspan></text>
</g>
</g>
<g id="ytick_18">
<g id="line2d_64">
<path d="M 43.425395 504.756983
L 944.415494 504.756983
" clip-path="url(#p106c75819a)" style="fill: none; stroke: #cccccc; stroke-width: 0.6; stroke-linecap: round"/>
</g>
<g id="text_49">
<text y="508.94" style="font-size:12.870px;font-family:'Liberation Serif',serif;fill:#262626;text-rendering:geometricPrecision"><tspan x="23.93" textLength="7.00" lengthAdjust="spacingAndGlyphs">0</tspan><tspan x="30.93" textLength="3.50" lengthAdjust="spacingAndGlyphs">.</tspan><tspan x="34.43" textLength="7.00" lengthAdjust="spacingAndGlyphs">8</tspan></text>
</g>
</g>
<g id="text_50">
<text y="570.35" transform="rotate(-90 17.436333 570.34914)" style="font-size:14.040px;font-family:'Liberation Serif',serif;fill:#262626;text-rendering:geometricPrecision"><tspan x="-42.81" textLength="8.22" lengthAdjust="spacingAndGlyphs">S</tspan><tspan x="-34.59" textLength="6.72" lengthAdjust="spacingAndGlyphs">c</tspan><tspan x="-27.87" textLength="7.22" lengthAdjust="spacingAndGlyphs">o</tspan><tspan x="-20.64" textLength="5.74" lengthAdjust="spacingAndGlyphs">r</tspan><tspan x="-14.91" textLength="7.10" lengthAdjust="spacingAndGlyphs">e</tspan> <tspan x="-3.99" textLength="4.74" lengthAdjust="spacingAndGlyphs">I</tspan><tspan x="0.75" textLength="11.38" lengthAdjust="spacingAndGlyphs">m</tspan><tspan x="12.13" textLength="7.68" lengthAdjust="spacingAndGlyphs">p</tspan><tspan x="19.81" textLength="5.74" lengthAdjust="spacingAndGlyphs">r</tspan><tspan x="25.55" textLength="7.22" lengthAdjust="spacingAndGlyphs">o</tspan><tspan x="32.77" textLength="6.78" lengthAdjust="spacingAndGlyphs">v</tspan><tspan x="39.55" textLength="7.10" lengthAdjust="spacingAndGlyphs">e</tspan><tspan x="46.65" textLength="11.38" lengthAdjust="spacingAndGlyphs">m</tspan><tspan x="58.03" textLength="7.10" lengthAdjust="spacingAndGlyphs">e</tspan><tspan x="65.13" textLength="7.73" lengthAdjust="spacingAndGlyphs">n</tspan><tspan x="72.86" textLength="4.82" lengthAdjust="spacingAndGlyphs">t</tspan></text>
</g>
</g>
<g id="patch_26">
<path d="M 56.296682 644.780268
L 159.266979 644.780268
L 159.266979 536.262222
L 56.296682 536.262222
z
" clip-path="url(#p106c75819a)" style="fill: #f6bcc2; stroke: #ffffff; stroke-linejoin: miter"/>
</g>
<g id="patch_27">
<path d="M 185.009554 644.780268
L 287.979851 644.780268
L 287.979851 503.006692
L 185.009554 503.006692
z
" clip-path="url(#p106c75819a)" style="fill: #c3f6ce; stroke: #ffffff; stroke-linejoin: miter"/>
</g>
<g id="patch_28">
<path d="M 313.722425 644.780268
L 416.692722 644.780268
L 416.692722 506.507274
L 313.722425 506.507274
z
" clip-path="url(#p106c75819a)" style="fill: #c3e0f6; stroke: #ffffff; stroke-linejoin: miter"/>
</g>
<g id="patch_29">
<path d="M 442.435296 644.780268
L 545.405593 644.780268
L 545.405593 569.517752
L 442.435296 569.517752
z
" clip-path="url(#p106c75819a)" style="fill: #f7dbc9; stroke: #ffffff; stroke-linejoin: miter"/>
</g>
<g id="patch_30">
<path d="M 571.148167 644.780268
L 674.118464 644.780268
L 674.118464 606.273864
L 571.148167 606.273864
z
" clip-path="url(#p106c75819a)" style="fill: #f6bcf0; stroke: #ffffff; stroke-linejoin: miter"/>
</g>
<g id="patch_31">
<path d="M 699.861039 644.780268
L 802.831336 644.780268
L 802.831336 606.273864
L 699.861039 606.273864
z
" clip-path="url(#p106c75819a)" style="fill: #bce9f6; stroke: #ffffff; stroke-linejoin: miter"/>
</g>
<g id="patch_32">
<path d="M 828.57391 644.780268
L 931.544207 644.780268
L 931.544207 536.262222
L 828.57391 536.262222
z
" clip-path="url(#p106c75819a)" style="fill: #d8c3f6; stroke: #ffffff; stroke-linejoin: miter"/>
</g>
<g id="line2d_65">
<path clip-path="url(#p106c75819a)" style="fill: none; stroke: #424242; stroke-width: 2.25; stroke-linecap: round"/>
</g>
<g id="line2d_66">
<path clip-path="url(#p106c75819a)" style="fill: none; stroke: #424242; stroke-width: 2.25; stroke-linecap: round"/>
</g>
<g id="line2d_67">
<path clip-path="url(#p106c75819a)" style="fill: none; stroke: #424242; stroke-width: 2.25; stroke-linecap: round"/>
</g>
<g id="line2d_68">
<path clip-path="url(#p106c75819a)" style="fill: none; stroke: #424242; stroke-width: 2.25; stroke-linecap: round"/>
</g>
<g id="line2d_69">
<path clip-path="url(#p106c75819a)" style="fill: none; stroke: #424242; stroke-width: 2.25; stroke-linecap: round"/>
</g>
<g id="line2d_70">
<path clip-path="url(#p106c75819a)" style="fill: none; stroke: #424242; stroke-width: 2.25; stroke-linecap: round"/>
</g>
<g id="line2d_71">
<path clip-path="url(#p106c75819a)" style="fill: none; stroke: #424242; stroke-width: 2.25; stroke-linecap: round"/>
</g>
<g id="patch_33">
<path d="M 43.425395 644.780268
L 43.425395 495.918013
" style="fill: none; stroke: #cccccc; stroke-width: 0.9; stroke-linejoin: miter; stroke-linecap: square"/>
</g>
<g id="patch_34">
<path d="M 944.415494 644.780268
L 944.415494 495.918013
" style="fill: none; stroke: #cccccc; stroke-width: 0.9; stroke-linejoin: miter; stroke-linecap: square"/>
</g>
<g id="patch_35">
<path d="M 43.425395 644.780268
L 944.415494 644.780268
" style="fill: none; stroke: #cccccc; stroke-width: 0.9; stroke-linejoin: miter; stroke-linecap: square"/>
</g>
<g id="patch_36">
<path d="M 43.425395 495.918013
L 944.415494 495.918013
" style="fill: none; stroke: #cccccc; stroke-width: 0.9; stroke-linejoin: miter; stroke-linecap: square"/>
</g>
<g id="text_51">
<text y="491.92" style="font-size:16.380px;font-family:'Liberation Serif',serif;fill:#262626;text-rendering:geometricPrecision"><tspan x="371.25" textLength="5.46" lengthAdjust="spacingAndGlyphs">(</tspan><tspan x="376.71" textLength="11.22" lengthAdjust="spacingAndGlyphs">D</tspan><tspan x="387.93" textLength="5.46" lengthAdjust="spacingAndGlyphs">)</tspan> <tspan x="397.84" textLength="9.59" lengthAdjust="spacingAndGlyphs">S</tspan><tspan x="407.44" textLength="7.84" lengthAdjust="spacingAndGlyphs">c</tspan><tspan x="415.28" textLength="8.43" lengthAdjust="spacingAndGlyphs">o</tspan><tspan x="423.71" textLength="6.69" lengthAdjust="spacingAndGlyphs">r</tspan><tspan x="430.40" textLength="8.29" lengthAdjust="spacingAndGlyphs">e</tspan> <tspan x="443.13" textLength="5.53" lengthAdjust="spacingAndGlyphs">I</tspan><tspan x="448.66" textLength="13.28" lengthAdjust="spacingAndGlyphs">m</tspan><tspan x="461.94" textLength="8.96" lengthAdjust="spacingAndGlyphs">p</tspan><tspan x="470.90" textLength="6.69" lengthAdjust="spacingAndGlyphs">r</tspan><tspan x="477.59" textLength="8.43" lengthAdjust="spacingAndGlyphs">o</tspan><tspan x="486.02" textLength="7.91" lengthAdjust="spacingAndGlyphs">v</tspan><tspan x="493.93" textLength="8.29" lengthAdjust="spacingAndGlyphs">e</tspan><tspan x="502.22" textLength="13.28" lengthAdjust="spacingAndGlyphs">m</tspan><tspan x="515.49" textLength="8.29" lengthAdjust="spacingAndGlyphs">e</tspan><tspan x="523.78" textLength="9.02" lengthAdjust="spacingAndGlyphs">n</tspan><tspan x="532.79" textLength="5.63" lengthAdjust="spacingAndGlyphs">t</tspan> <tspan x="542.87" textLength="8.96" lengthAdjust="spacingAndGlyphs">b</tspan><tspan x="551.83" textLength="7.91" lengthAdjust="spacingAndGlyphs">y</tspan> <tspan x="564.19" textLength="9.42" lengthAdjust="spacingAndGlyphs">P</tspan><tspan x="573.61" textLength="6.69" lengthAdjust="spacingAndGlyphs">r</tspan><tspan x="580.30" textLength="8.43" lengthAdjust="spacingAndGlyphs">o</tspan><tspan x="588.73" textLength="13.28" lengthAdjust="spacingAndGlyphs">m</tspan><tspan x="602.01" textLength="8.96" lengthAdjust="spacingAndGlyphs">p</tspan><tspan x="610.97" textLength="5.63" lengthAdjust="spacingAndGlyphs">t</tspan></text>
</g>
</g>
</g>
<defs>
<clipPath id="p2579b89960">
<rect x="43.425395" y="23.10231" width="900.990099" height="149.209658"/>
</clipPath>
<clipPath id="p837a4c3577">
<rect x="43.425395" y="260.46552" width="425.047768" height="148.428001"/>
</clipPath>
<clipPath id="p6758a894b1">
<rect x="518.151815" y="260.46552" width="426.263679" height="148.428001"/>
</clipPath>
<clipPath id="p106c75819a">
<rect x="43.425395" y="495.918013" width="900.990099" height="148.862255"/>
</clipPath>
</defs>
</svg>

</div></body></html>
